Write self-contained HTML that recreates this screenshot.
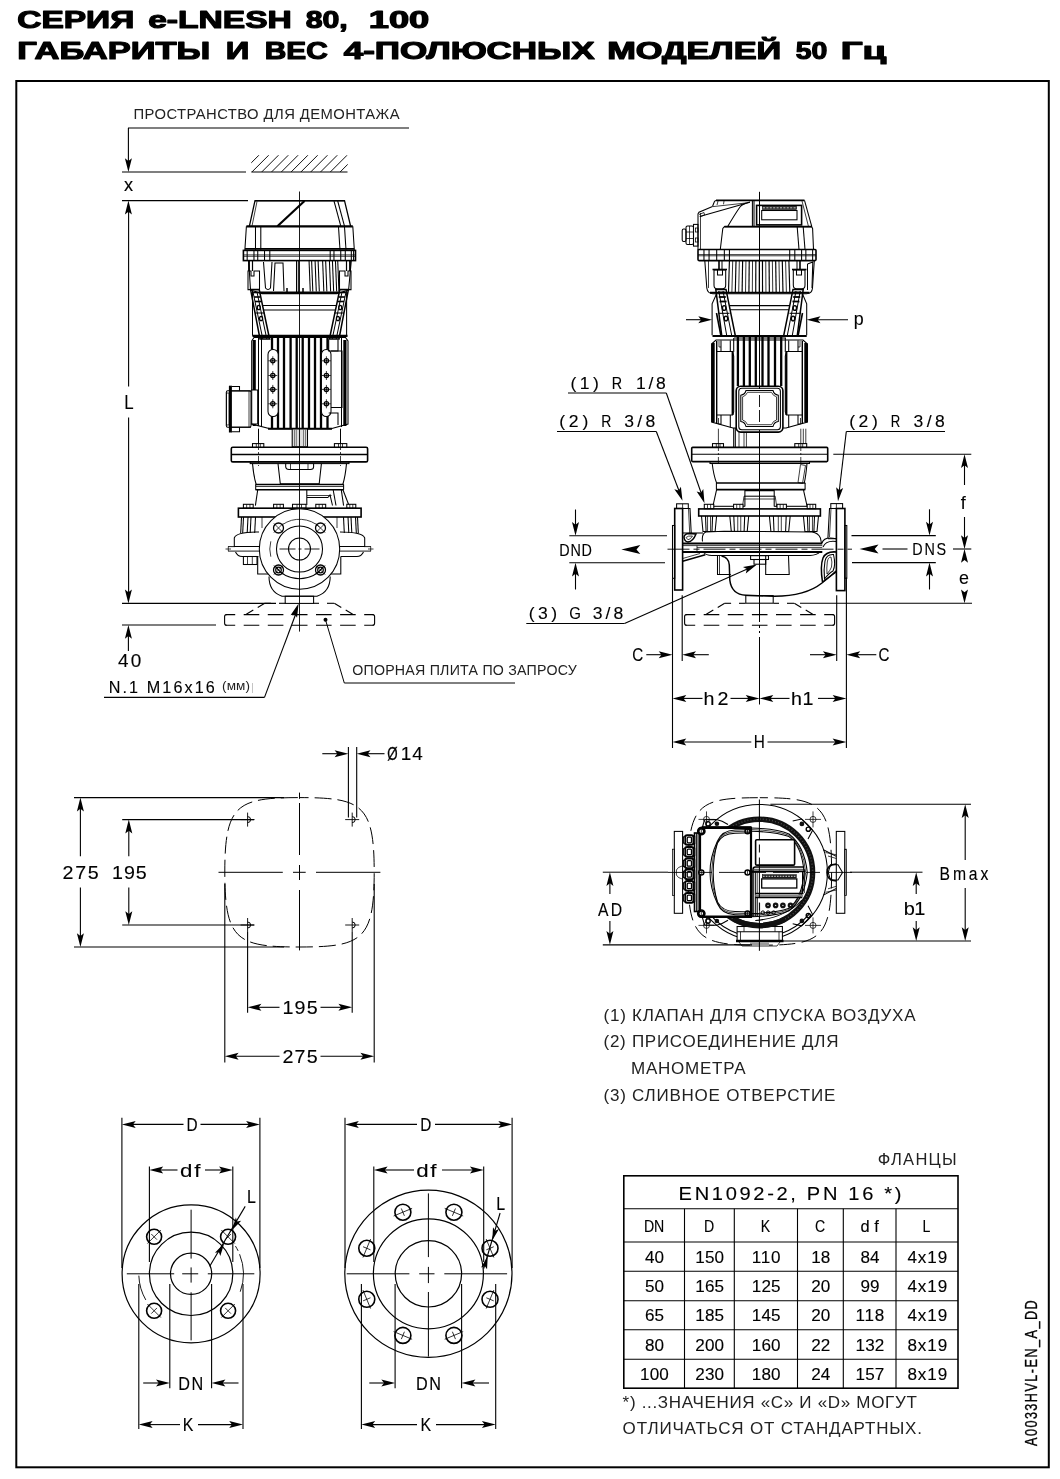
<!DOCTYPE html>
<html><head><meta charset="utf-8"><title>e-LNESH</title>
<style>
html,body{margin:0;padding:0;background:#fff;}
body{width:1060px;height:1479px;overflow:hidden;font-family:"Liberation Sans",sans-serif;}
svg{display:block;opacity:0.999;will-change:transform;}
</style></head><body>
<svg width="1060" height="1479" viewBox="0 0 1060 1479">
<rect width="1060" height="1479" fill="#fff"/>
<!-- frame_title -->
<rect x="16.3" y="81" width="1032.5" height="1386.3" rx="0" fill="none" stroke="#000" stroke-width="2"/>
<text x="17.2" y="27.5" font-family="Liberation Sans, sans-serif" font-size="24.2" font-weight="bold" textLength="117.1" lengthAdjust="spacingAndGlyphs" stroke="#000" stroke-width="1.15" stroke-linejoin="round">СЕРИЯ</text>
<text x="148.2" y="27.5" font-family="Liberation Sans, sans-serif" font-size="24.2" font-weight="bold" textLength="143.6" lengthAdjust="spacingAndGlyphs" stroke="#000" stroke-width="1.15" stroke-linejoin="round">e-LNESH</text>
<text x="305.7" y="27.5" font-family="Liberation Sans, sans-serif" font-size="24.2" font-weight="bold" textLength="42.1" lengthAdjust="spacingAndGlyphs" stroke="#000" stroke-width="1.15" stroke-linejoin="round">80,</text>
<text x="368.7" y="27.5" font-family="Liberation Sans, sans-serif" font-size="24.2" font-weight="bold" textLength="60.6" lengthAdjust="spacingAndGlyphs" stroke="#000" stroke-width="1.15" stroke-linejoin="round">100</text>
<text x="17.2" y="58.5" font-family="Liberation Sans, sans-serif" font-size="24.2" font-weight="bold" textLength="193.1" lengthAdjust="spacingAndGlyphs" stroke="#000" stroke-width="1.15" stroke-linejoin="round">ГАБАРИТЫ</text>
<text x="225.7" y="58.5" font-family="Liberation Sans, sans-serif" font-size="24.2" font-weight="bold" textLength="23.6" lengthAdjust="spacingAndGlyphs" stroke="#000" stroke-width="1.15" stroke-linejoin="round">И</text>
<text x="264.7" y="58.5" font-family="Liberation Sans, sans-serif" font-size="24.2" font-weight="bold" textLength="63.1" lengthAdjust="spacingAndGlyphs" stroke="#000" stroke-width="1.15" stroke-linejoin="round">ВЕС</text>
<text x="343.7" y="58.5" font-family="Liberation Sans, sans-serif" font-size="24.2" font-weight="bold" textLength="250.9" lengthAdjust="spacingAndGlyphs" stroke="#000" stroke-width="1.15" stroke-linejoin="round">4-ПОЛЮСНЫХ</text>
<text x="607.2" y="58.5" font-family="Liberation Sans, sans-serif" font-size="24.2" font-weight="bold" textLength="174.1" lengthAdjust="spacingAndGlyphs" stroke="#000" stroke-width="1.15" stroke-linejoin="round">МОДЕЛЕЙ</text>
<text x="795.7" y="58.5" font-family="Liberation Sans, sans-serif" font-size="24.2" font-weight="bold" textLength="31.6" lengthAdjust="spacingAndGlyphs" stroke="#000" stroke-width="1.15" stroke-linejoin="round">50</text>
<text x="840.7" y="58.5" font-family="Liberation Sans, sans-serif" font-size="24.2" font-weight="bold" textLength="45.6" lengthAdjust="spacingAndGlyphs" stroke="#000" stroke-width="1.15" stroke-linejoin="round">Гц</text>
<!-- left_dims -->
<text x="133.5" y="119.2" font-family="Liberation Sans, sans-serif" font-size="14.8" font-weight="normal" text-anchor="start" fill="#222" textLength="266" lengthAdjust="spacing" >ПРОСТРАНСТВО ДЛЯ ДЕМОНТАЖА</text>
<line x1="128" y1="128" x2="409" y2="128" stroke="#000" stroke-width="1.1"/>
<line x1="128.4" y1="128" x2="128.4" y2="165" stroke="#000" stroke-width="1.1"/>
<polygon points="128.4,172 124.9,158.2 128.4,160.96 131.9,158.2" fill="#000"/>
<line x1="122" y1="172" x2="246" y2="172" stroke="#000" stroke-width="1.1"/>
<line x1="251.3" y1="172" x2="347.5" y2="172" stroke="#555" stroke-width="1.7"/>
<clipPath id="hc"><rect x="251.3" y="155.2" width="96.4" height="17"/></clipPath><g clip-path="url(#hc)">
<line x1="242.1" y1="172" x2="259.1" y2="155" stroke="#111" stroke-width="1"/>
<line x1="251.9" y1="172" x2="268.9" y2="155" stroke="#111" stroke-width="1"/>
<line x1="261.7" y1="172" x2="278.7" y2="155" stroke="#111" stroke-width="1"/>
<line x1="271.5" y1="172" x2="288.5" y2="155" stroke="#111" stroke-width="1"/>
<line x1="281.3" y1="172" x2="298.3" y2="155" stroke="#111" stroke-width="1"/>
<line x1="291.1" y1="172" x2="308.1" y2="155" stroke="#111" stroke-width="1"/>
<line x1="300.9" y1="172" x2="317.9" y2="155" stroke="#111" stroke-width="1"/>
<line x1="310.7" y1="172" x2="327.7" y2="155" stroke="#111" stroke-width="1"/>
<line x1="320.5" y1="172" x2="337.5" y2="155" stroke="#111" stroke-width="1"/>
<line x1="330.3" y1="172" x2="347.3" y2="155" stroke="#111" stroke-width="1"/>
<line x1="340.1" y1="172" x2="357.1" y2="155" stroke="#111" stroke-width="1"/>
</g>
<text transform="translate(123.98 191) scale(1 1)" font-family="Liberation Sans, sans-serif" font-size="18.14" text-anchor="start" fill="#000" stroke="#000" stroke-width="0.12">x</text>
<line x1="122" y1="200.6" x2="248" y2="200.6" stroke="#000" stroke-width="1.1"/>
<polygon points="128.4,200.6 131.9,214.4 128.4,211.64 124.9,214.4" fill="#000"/>
<line x1="128.6" y1="208" x2="128.6" y2="386.6" stroke="#000" stroke-width="1.1"/>
<line x1="128.6" y1="417.4" x2="128.6" y2="596" stroke="#000" stroke-width="1.1"/>
<text transform="translate(124.14 408.8) scale(0.86 1)" font-family="Liberation Sans, sans-serif" font-size="19.57" text-anchor="start" fill="#000" stroke="#000" stroke-width="0.12">L</text>
<polygon points="128.4,603.4 124.9,589.6 128.4,592.36 131.9,589.6" fill="#000"/>
<line x1="122" y1="603.4" x2="276" y2="603.4" stroke="#000" stroke-width="1.1"/>
<line x1="122" y1="625" x2="216" y2="625" stroke="#000" stroke-width="1.1"/>
<polygon points="128.4,625 131.9,638.8 128.4,636.04 124.9,638.8" fill="#000"/>
<line x1="128.4" y1="632" x2="128.4" y2="651" stroke="#000" stroke-width="1.1"/>
<text transform="translate(118.12 666.5) scale(1.06 1)" font-family="Liberation Sans, sans-serif" font-size="17.86" text-anchor="start" fill="#000" textLength="21.94" lengthAdjust="spacing" stroke="#000" stroke-width="0.12">40</text>
<text transform="translate(108.77 692.5) scale(0.96 1)" font-family="Liberation Sans, sans-serif" font-size="16.86" text-anchor="start" fill="#000" textLength="110.37" lengthAdjust="spacing" stroke="#000" stroke-width="0.12">N.1 M16x16</text>
<text x="222" y="690" font-family="Liberation Sans, sans-serif" font-size="13.5" font-weight="normal" text-anchor="start" fill="#222" textLength="28" lengthAdjust="spacing" >(мм)</text>
<line x1="252.5" y1="683" x2="252.5" y2="693" stroke="#888" stroke-width="0.5"/>
<line x1="104" y1="697.4" x2="264.5" y2="697.4" stroke="#000" stroke-width="1.1"/>
<line x1="264.5" y1="697.4" x2="296.5" y2="612" stroke="#000" stroke-width="1.1"/>
<polygon points="298.6,603.6 297.05,617.75 294.73,613.94 290.49,615.3" fill="#000"/>
<line x1="225.6" y1="614.6" x2="373.6" y2="614.6" stroke="#000" stroke-width="1.1" stroke-dasharray="15.6 8.5" stroke-dashoffset="6"/>
<line x1="225.6" y1="625.2" x2="373.6" y2="625.2" stroke="#000" stroke-width="1.1" stroke-dasharray="15.6 8.5" stroke-dashoffset="6"/>
<path d="M226.6 614.6 Q224.6 614.6 224.6 616.6 L224.6 623.2 Q224.6 625.2 226.6 625.2" fill="none" stroke="#000" stroke-width="1.1" />
<path d="M372.6 614.6 Q374.6 614.6 374.6 616.6 L374.6 623.2 Q374.6 625.2 372.6 625.2" fill="none" stroke="#000" stroke-width="1.1" />
<line x1="264.7" y1="603.3" x2="271.1" y2="603.3" stroke="#000" stroke-width="1.1"/>
<line x1="279" y1="603.3" x2="285.5" y2="603.3" stroke="#000" stroke-width="1.1"/>
<line x1="313.5" y1="603.3" x2="319" y2="603.3" stroke="#000" stroke-width="1.1"/>
<line x1="327" y1="603.3" x2="334" y2="603.3" stroke="#000" stroke-width="1.1"/>
<line x1="264.7" y1="603.3" x2="257.71" y2="607.44" stroke="#000" stroke-width="1.1"/>
<line x1="253.29" y1="610.06" x2="246.3" y2="614.2" stroke="#000" stroke-width="1.1"/>
<line x1="334.3" y1="603.3" x2="341.29" y2="607.44" stroke="#000" stroke-width="1.1"/>
<line x1="345.71" y1="610.06" x2="352.7" y2="614.2" stroke="#000" stroke-width="1.1"/>
<circle cx="325.5" cy="619.8" r="2" fill="#000" stroke="#000" stroke-width="0"/>
<line x1="325.5" y1="619.8" x2="344.3" y2="683" stroke="#000" stroke-width="1"/>
<line x1="344.3" y1="683" x2="515" y2="683" stroke="#000" stroke-width="1"/>
<text x="352.2" y="675" font-family="Liberation Sans, sans-serif" font-size="14.2" font-weight="normal" text-anchor="start" fill="#222" textLength="224.5" lengthAdjust="spacing" >ОПОРНАЯ ПЛИТА ПО ЗАПРОСУ</text>
<!-- left_pump -->
<path d="M249.4 226.2 L255 200.7 L344.5 200.7 L350.6 226.2" fill="none" stroke="#000" stroke-width="1.3" />
<line x1="255" y1="200.7" x2="344.5" y2="200.7" stroke="#000" stroke-width="1.6"/>
<line x1="252" y1="226" x2="257" y2="201.5" stroke="#000" stroke-width="0.75"/>
<line x1="277.4" y1="226.2" x2="304.5" y2="201" stroke="#000" stroke-width="2.2"/>
<line x1="334" y1="201" x2="340.8" y2="226.2" stroke="#000" stroke-width="1.05"/>
<line x1="337.7" y1="201" x2="344.5" y2="226.2" stroke="#000" stroke-width="1.05"/>
<line x1="246.4" y1="226.3" x2="352.8" y2="226.3" stroke="#000" stroke-width="2.2"/>
<path d="M246.4 226.3 L244.9 249.8 L354.3 249.8 L352.8 226.3" fill="none" stroke="#000" stroke-width="1.05" />
<line x1="255.5" y1="227" x2="255.5" y2="249.8" stroke="#000" stroke-width="1.05"/>
<line x1="260.8" y1="227" x2="260.8" y2="249.8" stroke="#000" stroke-width="1.05"/>
<line x1="338.5" y1="227" x2="340" y2="249.8" stroke="#000" stroke-width="1.05"/>
<line x1="344.5" y1="227" x2="346" y2="249.8" stroke="#000" stroke-width="1.05"/>
<line x1="245" y1="248.5" x2="354.2" y2="248.5" stroke="#000" stroke-width="1.05"/>
<rect x="243.4" y="250.4" width="112.1" height="10.2" rx="0" fill="none" stroke="#000" stroke-width="1.6"/>
<line x1="243.4" y1="254.9" x2="355.5" y2="254.9" stroke="#000" stroke-width="0.75"/>
<line x1="243.4" y1="256.3" x2="355.5" y2="256.3" stroke="#000" stroke-width="0.75"/>
<line x1="247.17" y1="250.4" x2="247.17" y2="260.6" stroke="#000" stroke-width="1.05"/>
<line x1="253.96" y1="250.4" x2="253.96" y2="260.6" stroke="#000" stroke-width="1.05"/>
<line x1="257.74" y1="250.4" x2="257.74" y2="260.6" stroke="#000" stroke-width="1.05"/>
<line x1="264.53" y1="250.4" x2="264.53" y2="260.6" stroke="#000" stroke-width="1.05"/>
<line x1="269.81" y1="250.4" x2="269.81" y2="260.6" stroke="#000" stroke-width="1.05"/>
<line x1="330.19" y1="250.4" x2="330.19" y2="260.6" stroke="#000" stroke-width="1.05"/>
<line x1="333.96" y1="250.4" x2="333.96" y2="260.6" stroke="#000" stroke-width="1.05"/>
<line x1="340.75" y1="250.4" x2="340.75" y2="260.6" stroke="#000" stroke-width="1.05"/>
<line x1="345.28" y1="250.4" x2="345.28" y2="260.6" stroke="#000" stroke-width="1.05"/>
<line x1="351.32" y1="250.4" x2="351.32" y2="260.6" stroke="#000" stroke-width="1.05"/>
<line x1="353.58" y1="250.4" x2="353.58" y2="260.6" stroke="#000" stroke-width="1.05"/>
<path d="M248.7 260.6 L250.5 290 L262 293.6 L337 293.6 L348.6 290 L351.3 260.6" fill="none" stroke="#000" stroke-width="1.05" />
<line x1="260" y1="292.4" x2="339" y2="292.4" stroke="#000" stroke-width="1.6"/>
<line x1="309.06" y1="261" x2="310.26" y2="291.5" stroke="#000" stroke-width="1.05"/>
<line x1="311.62" y1="261" x2="312.82" y2="291.5" stroke="#000" stroke-width="1.05"/>
<line x1="315.09" y1="261" x2="316.29" y2="291.5" stroke="#000" stroke-width="1.05"/>
<line x1="318.11" y1="261" x2="319.31" y2="291.5" stroke="#000" stroke-width="1.05"/>
<line x1="322.64" y1="261" x2="323.84" y2="291.5" stroke="#000" stroke-width="1.05"/>
<line x1="325.66" y1="261" x2="326.86" y2="291.5" stroke="#000" stroke-width="1.05"/>
<line x1="329.43" y1="261" x2="330.63" y2="291.5" stroke="#000" stroke-width="1.05"/>
<line x1="332.45" y1="261" x2="333.65" y2="291.5" stroke="#000" stroke-width="1.05"/>
<line x1="335.47" y1="261" x2="336.67" y2="291.5" stroke="#000" stroke-width="1.05"/>
<line x1="337.74" y1="261" x2="338.94" y2="291.5" stroke="#000" stroke-width="1.05"/>
<path d="M263.5 262 L265.5 288 Q268 291 270.5 288 L272 262" fill="none" stroke="#000" stroke-width="1.05" />
<path d="M273.5 291 L275 263 L283 263 L284 291" fill="none" stroke="#000" stroke-width="1.05" />
<line x1="296.5" y1="261" x2="296.5" y2="292" stroke="#000" stroke-width="1.05"/>
<line x1="298.3" y1="261" x2="298.3" y2="292" stroke="#000" stroke-width="1.05"/>
<line x1="287" y1="288" x2="287" y2="292" stroke="#000" stroke-width="1.5"/>
<line x1="303" y1="288" x2="303" y2="292" stroke="#000" stroke-width="1.5"/>
<path d="M248 271 L248 289.6 L259.5 289.6 L259.5 271 L254 271 L254 276 L251 276 L251 271 Z" fill="none" stroke="#000" stroke-width="1.05" />
<line x1="249" y1="261" x2="249" y2="271" stroke="#000" stroke-width="1.8"/>
<line x1="252.5" y1="261" x2="252.5" y2="271" stroke="#000" stroke-width="1.2"/>
<path d="M250.6 289.6 L259.2 289.6 L269.6 339 L260 339 Z" fill="none" stroke="#000" stroke-width="1.5" />
<line x1="253" y1="292" x2="262.8" y2="339" stroke="#000" stroke-width="1"/>
<line x1="257" y1="292" x2="266.8" y2="339" stroke="#000" stroke-width="1"/>
<line x1="253.11" y1="292.5" x2="259.11" y2="292.5" stroke="#000" stroke-width="1.6"/>
<line x1="254.05" y1="297" x2="260.05" y2="297" stroke="#000" stroke-width="1.6"/>
<line x1="255" y1="301.5" x2="261" y2="301.5" stroke="#000" stroke-width="1.6"/>
<ellipse cx="258.76" cy="307.5" rx="1.5" ry="2.2" fill="none" stroke="#000" stroke-width="1.3"/>
<ellipse cx="261.07" cy="318.5" rx="1.5" ry="2.2" fill="none" stroke="#000" stroke-width="1.3"/>
<line x1="255.2" y1="313" x2="264.5" y2="313" stroke="#000" stroke-width="1.05"/>
<path d="M351 271 L351 289.6 L339.5 289.6 L339.5 271 L345 271 L345 276 L348 276 L348 271 Z" fill="none" stroke="#000" stroke-width="1.05" />
<line x1="350" y1="261" x2="350" y2="271" stroke="#000" stroke-width="1.8"/>
<line x1="346.5" y1="261" x2="346.5" y2="271" stroke="#000" stroke-width="1.2"/>
<path d="M348.4 289.6 L339.8 289.6 L329.4 339 L339 339 Z" fill="none" stroke="#000" stroke-width="1.5" />
<line x1="346" y1="292" x2="336.2" y2="339" stroke="#000" stroke-width="1"/>
<line x1="342" y1="292" x2="332.2" y2="339" stroke="#000" stroke-width="1"/>
<line x1="345.89" y1="292.5" x2="339.89" y2="292.5" stroke="#000" stroke-width="1.6"/>
<line x1="344.95" y1="297" x2="338.95" y2="297" stroke="#000" stroke-width="1.6"/>
<line x1="344" y1="301.5" x2="338" y2="301.5" stroke="#000" stroke-width="1.6"/>
<ellipse cx="340.24" cy="307.5" rx="1.5" ry="2.2" fill="none" stroke="#000" stroke-width="1.3"/>
<ellipse cx="337.93" cy="318.5" rx="1.5" ry="2.2" fill="none" stroke="#000" stroke-width="1.3"/>
<line x1="343.8" y1="313" x2="334.5" y2="313" stroke="#000" stroke-width="1.05"/>
<line x1="252.5" y1="291" x2="252.5" y2="335.7" stroke="#000" stroke-width="1.05"/>
<line x1="346.6" y1="291" x2="346.6" y2="335.7" stroke="#000" stroke-width="1.05"/>
<line x1="262.5" y1="305.5" x2="336.5" y2="305.5" stroke="#000" stroke-width="1.05"/>
<line x1="263.5" y1="310" x2="335.5" y2="310" stroke="#000" stroke-width="1.05"/>
<line x1="252.5" y1="335.9" x2="347.5" y2="335.9" stroke="#000" stroke-width="2.2"/>
<path d="M251.7 341 L254 337.5 L345.5 337.5 L348 341 L348 424 L331 428.7 L270 428.7 L251.7 424 Z" fill="none" stroke="#000" stroke-width="1.05" />
<line x1="254.2" y1="340" x2="254.2" y2="390" stroke="#000" stroke-width="3.2"/>
<line x1="254.2" y1="424" x2="254.2" y2="426" stroke="#000" stroke-width="3.2"/>
<line x1="258.5" y1="338" x2="258.5" y2="426" stroke="#000" stroke-width="1.05"/>
<line x1="261.5" y1="338" x2="261.5" y2="427" stroke="#000" stroke-width="1.05"/>
<line x1="344.9" y1="340" x2="344.9" y2="426" stroke="#000" stroke-width="3.2"/>
<line x1="341.5" y1="338" x2="341.5" y2="427" stroke="#000" stroke-width="1.05"/>
<line x1="272" y1="337" x2="272" y2="428.7" stroke="#000" stroke-width="2.3"/>
<line x1="278" y1="337" x2="278" y2="428.7" stroke="#000" stroke-width="2.3"/>
<line x1="284" y1="337" x2="284" y2="428.7" stroke="#000" stroke-width="2.3"/>
<line x1="290.6" y1="337" x2="290.6" y2="428.7" stroke="#000" stroke-width="2.3"/>
<line x1="296.7" y1="337" x2="296.7" y2="428.7" stroke="#000" stroke-width="2.3"/>
<line x1="302.7" y1="337" x2="302.7" y2="428.7" stroke="#000" stroke-width="2.3"/>
<line x1="309" y1="337" x2="309" y2="428.7" stroke="#000" stroke-width="2.3"/>
<line x1="315" y1="337" x2="315" y2="428.7" stroke="#000" stroke-width="2.3"/>
<line x1="321" y1="337" x2="321" y2="428.7" stroke="#000" stroke-width="2.3"/>
<line x1="327.5" y1="337" x2="327.5" y2="428.7" stroke="#000" stroke-width="2.3"/>
<line x1="268" y1="428.7" x2="332" y2="428.7" stroke="#000" stroke-width="2"/>
<rect x="268" y="349.4" width="10.2" height="67.2" rx="5" fill="#fff" stroke="#000" stroke-width="1.05"/>
<circle cx="272.8" cy="360.8" r="2.1" fill="none" stroke="#000" stroke-width="1.3"/>
<circle cx="272.8" cy="360.8" r="0.8" fill="#000" stroke="#000" stroke-width="0"/>
<line x1="268.3" y1="360.8" x2="277.3" y2="360.8" stroke="#000" stroke-width="0.75"/>
<line x1="272.8" y1="356.3" x2="272.8" y2="365.3" stroke="#000" stroke-width="0.75"/>
<circle cx="272.8" cy="375.5" r="2.1" fill="none" stroke="#000" stroke-width="1.3"/>
<circle cx="272.8" cy="375.5" r="0.8" fill="#000" stroke="#000" stroke-width="0"/>
<line x1="268.3" y1="375.5" x2="277.3" y2="375.5" stroke="#000" stroke-width="0.75"/>
<line x1="272.8" y1="371" x2="272.8" y2="380" stroke="#000" stroke-width="0.75"/>
<circle cx="272.8" cy="389.4" r="2.1" fill="none" stroke="#000" stroke-width="1.3"/>
<circle cx="272.8" cy="389.4" r="0.8" fill="#000" stroke="#000" stroke-width="0"/>
<line x1="268.3" y1="389.4" x2="277.3" y2="389.4" stroke="#000" stroke-width="0.75"/>
<line x1="272.8" y1="384.9" x2="272.8" y2="393.9" stroke="#000" stroke-width="0.75"/>
<circle cx="272.8" cy="403.8" r="2.1" fill="none" stroke="#000" stroke-width="1.3"/>
<circle cx="272.8" cy="403.8" r="0.8" fill="#000" stroke="#000" stroke-width="0"/>
<line x1="268.3" y1="403.8" x2="277.3" y2="403.8" stroke="#000" stroke-width="0.75"/>
<line x1="272.8" y1="399.3" x2="272.8" y2="408.3" stroke="#000" stroke-width="0.75"/>
<rect x="321.4" y="349.4" width="9.6" height="67.2" rx="5" fill="#fff" stroke="#000" stroke-width="1.05"/>
<circle cx="326.4" cy="360.8" r="2.1" fill="none" stroke="#000" stroke-width="1.3"/>
<circle cx="326.4" cy="360.8" r="0.8" fill="#000" stroke="#000" stroke-width="0"/>
<line x1="321.9" y1="360.8" x2="330.9" y2="360.8" stroke="#000" stroke-width="0.75"/>
<line x1="326.4" y1="356.3" x2="326.4" y2="365.3" stroke="#000" stroke-width="0.75"/>
<circle cx="326.4" cy="375.5" r="2.1" fill="none" stroke="#000" stroke-width="1.3"/>
<circle cx="326.4" cy="375.5" r="0.8" fill="#000" stroke="#000" stroke-width="0"/>
<line x1="321.9" y1="375.5" x2="330.9" y2="375.5" stroke="#000" stroke-width="0.75"/>
<line x1="326.4" y1="371" x2="326.4" y2="380" stroke="#000" stroke-width="0.75"/>
<circle cx="326.4" cy="389.4" r="2.1" fill="none" stroke="#000" stroke-width="1.3"/>
<circle cx="326.4" cy="389.4" r="0.8" fill="#000" stroke="#000" stroke-width="0"/>
<line x1="321.9" y1="389.4" x2="330.9" y2="389.4" stroke="#000" stroke-width="0.75"/>
<line x1="326.4" y1="384.9" x2="326.4" y2="393.9" stroke="#000" stroke-width="0.75"/>
<circle cx="326.4" cy="403.8" r="2.1" fill="none" stroke="#000" stroke-width="1.3"/>
<circle cx="326.4" cy="403.8" r="0.8" fill="#000" stroke="#000" stroke-width="0"/>
<line x1="321.9" y1="403.8" x2="330.9" y2="403.8" stroke="#000" stroke-width="0.75"/>
<line x1="326.4" y1="399.3" x2="326.4" y2="408.3" stroke="#000" stroke-width="0.75"/>
<path d="M328.7 339.6 L328.7 351 L338 351 L338 339.6" fill="none" stroke="#000" stroke-width="1.05" />
<path d="M331 351 L342 351 L342 407.5 L331 407.5" fill="none" stroke="#000" stroke-width="1.05" />
<path d="M328.7 413 L338 413 L338 425" fill="none" stroke="#000" stroke-width="1.05" />
<rect x="226.3" y="390.7" width="24.7" height="36.6" rx="1.5" fill="none" stroke="#000" stroke-width="1.05"/>
<line x1="230.4" y1="385.7" x2="230.4" y2="432.5" stroke="#000" stroke-width="3"/>
<rect x="226.5" y="393" width="2.5" height="32" rx="0" fill="none" stroke="#000" stroke-width="0.75"/>
<line x1="231" y1="391" x2="251" y2="391" stroke="#000" stroke-width="1.05"/>
<line x1="231" y1="427.2" x2="251" y2="427.2" stroke="#000" stroke-width="1.05"/>
<path d="M231.5 386.5 L239.5 386.5 L239.5 390.7" fill="none" stroke="#000" stroke-width="1.05" />
<path d="M231.5 431.7 L239.5 431.7 L239.5 427.3" fill="none" stroke="#000" stroke-width="1.05" />
<line x1="249" y1="391" x2="249" y2="427" stroke="#000" stroke-width="0.75"/>
<path d="M251 390 L257.7 390 L257.7 424 L251 424" fill="none" stroke="#000" stroke-width="1.05" />
<rect x="292.2" y="429" width="15.3" height="17.8" rx="0" fill="#ddd" stroke="#000" stroke-width="1.05"/>
<line x1="294.5" y1="429" x2="294.5" y2="446.8" stroke="#555" stroke-width="0.75"/>
<line x1="296.3" y1="429" x2="296.3" y2="446.8" stroke="#555" stroke-width="0.75"/>
<line x1="303.5" y1="429" x2="303.5" y2="446.8" stroke="#555" stroke-width="0.75"/>
<line x1="305.5" y1="429" x2="305.5" y2="446.8" stroke="#555" stroke-width="0.75"/>
<line x1="258.5" y1="428.7" x2="258.5" y2="443.8" stroke="#000" stroke-width="1.05"/>
<line x1="340.5" y1="428.7" x2="340.5" y2="443.8" stroke="#000" stroke-width="1.05"/>
<rect x="252.5" y="443.6" width="11.3" height="3.9" rx="0" fill="none" stroke="#000" stroke-width="1.05"/>
<line x1="256.3" y1="443.6" x2="256.3" y2="447.5" stroke="#000" stroke-width="0.75"/>
<line x1="260.3" y1="443.6" x2="260.3" y2="447.5" stroke="#000" stroke-width="0.75"/>
<rect x="334.4" y="443.6" width="12.4" height="3.9" rx="0" fill="none" stroke="#000" stroke-width="1.05"/>
<line x1="338.5" y1="443.6" x2="338.5" y2="447.5" stroke="#000" stroke-width="0.75"/>
<line x1="342.5" y1="443.6" x2="342.5" y2="447.5" stroke="#000" stroke-width="0.75"/>
<rect x="231.3" y="447.3" width="136.3" height="14.6" rx="1.5" fill="none" stroke="#000" stroke-width="1.6"/>
<line x1="231.3" y1="454.5" x2="367.6" y2="454.5" stroke="#000" stroke-width="1.3"/>
<line x1="258.5" y1="443" x2="258.5" y2="466" stroke="#000" stroke-width="0.75" stroke-dasharray="7 2 2 2"/>
<line x1="340.5" y1="443" x2="340.5" y2="466" stroke="#000" stroke-width="0.75" stroke-dasharray="7 2 2 2"/>
<rect x="250.2" y="461.9" width="98.8" height="1.7" rx="0" fill="none" stroke="#000" stroke-width="1.05"/>
<path d="M252.5 463.6 Q253.6 476 256.2 484.5" fill="none" stroke="#000" stroke-width="1.05" />
<line x1="257.7" y1="489.8" x2="255.4" y2="505.7" stroke="#000" stroke-width="1.05"/>
<path d="M346.5 463.6 Q345.4 476 342.8 484.5" fill="none" stroke="#000" stroke-width="1.05" />
<line x1="341.3" y1="489.8" x2="343.6" y2="505.7" stroke="#000" stroke-width="1.05"/>
<path d="M278 463.6 L280.3 483.8 L319.2 483.8 L321.4 463.6" fill="none" stroke="#000" stroke-width="1.05" />
<path d="M285.7 463.6 L285.7 467 Q286 469.5 289 469.5 L310.5 469.5 Q313.5 469.5 313.6 467 L313.6 463.6" fill="none" stroke="#000" stroke-width="1.05" />
<line x1="290.5" y1="463.6" x2="290.5" y2="469.5" stroke="#000" stroke-width="0.75"/>
<line x1="308" y1="463.6" x2="308" y2="469.5" stroke="#000" stroke-width="0.75"/>
<line x1="255.5" y1="484.5" x2="343.8" y2="484.5" stroke="#000" stroke-width="1.6"/>
<line x1="255.5" y1="489.8" x2="343.8" y2="489.8" stroke="#000" stroke-width="1.6"/>
<line x1="255.7" y1="484.5" x2="255.7" y2="489.8" stroke="#000" stroke-width="1.05"/>
<line x1="343.6" y1="484.5" x2="343.6" y2="489.8" stroke="#000" stroke-width="1.05"/>
<line x1="256" y1="486.5" x2="343.5" y2="486.5" stroke="#000" stroke-width="0.75"/>
<line x1="306.8" y1="490" x2="306.8" y2="505" stroke="#000" stroke-width="1.05"/>
<line x1="307" y1="495.5" x2="331.5" y2="495.5" stroke="#000" stroke-width="0.75"/>
<line x1="307" y1="497.5" x2="328" y2="497.5" stroke="#000" stroke-width="1.05"/>
<path d="M328 497.5 L330 495 L332.5 505.5" fill="none" stroke="#000" stroke-width="1.05" />
<line x1="333.2" y1="490" x2="336" y2="505.5" stroke="#000" stroke-width="1.05"/>
<line x1="343" y1="490" x2="349" y2="505.5" stroke="#000" stroke-width="1.05"/>
<rect x="243.4" y="504.3" width="9.8" height="3.9" rx="0" fill="#fff" stroke="#000" stroke-width="1.05"/>
<line x1="246.67" y1="504.3" x2="246.67" y2="508.2" stroke="#000" stroke-width="0.75"/>
<line x1="249.93" y1="504.3" x2="249.93" y2="508.2" stroke="#000" stroke-width="0.75"/>
<rect x="273.6" y="504.3" width="9.8" height="3.9" rx="0" fill="#fff" stroke="#000" stroke-width="1.05"/>
<line x1="276.87" y1="504.3" x2="276.87" y2="508.2" stroke="#000" stroke-width="0.75"/>
<line x1="280.13" y1="504.3" x2="280.13" y2="508.2" stroke="#000" stroke-width="0.75"/>
<rect x="292.5" y="504.3" width="13.5" height="3.9" rx="0" fill="#fff" stroke="#000" stroke-width="1.05"/>
<line x1="297" y1="504.3" x2="297" y2="508.2" stroke="#000" stroke-width="0.75"/>
<line x1="301.5" y1="504.3" x2="301.5" y2="508.2" stroke="#000" stroke-width="0.75"/>
<rect x="315.8" y="504.3" width="9.9" height="3.9" rx="0" fill="#fff" stroke="#000" stroke-width="1.05"/>
<line x1="319.1" y1="504.3" x2="319.1" y2="508.2" stroke="#000" stroke-width="0.75"/>
<line x1="322.4" y1="504.3" x2="322.4" y2="508.2" stroke="#000" stroke-width="0.75"/>
<rect x="346.8" y="504.3" width="9" height="3.9" rx="0" fill="#fff" stroke="#000" stroke-width="1.05"/>
<line x1="349.8" y1="504.3" x2="349.8" y2="508.2" stroke="#000" stroke-width="0.75"/>
<line x1="352.8" y1="504.3" x2="352.8" y2="508.2" stroke="#000" stroke-width="0.75"/>
<rect x="238.4" y="508.2" width="122.7" height="8.8" rx="0" fill="none" stroke="#000" stroke-width="1.6"/>
<line x1="241.5" y1="517" x2="240.7" y2="533" stroke="#000" stroke-width="1.05"/>
<line x1="243.5" y1="517" x2="242.7" y2="533" stroke="#000" stroke-width="1.05"/>
<line x1="248" y1="517" x2="247.2" y2="533" stroke="#000" stroke-width="1.05"/>
<line x1="251" y1="517" x2="250.2" y2="533" stroke="#000" stroke-width="1.05"/>
<line x1="255.5" y1="517" x2="254.7" y2="533" stroke="#000" stroke-width="1.05"/>
<line x1="262" y1="517" x2="262" y2="528" stroke="#000" stroke-width="0.75"/>
<line x1="357.5" y1="517" x2="358.3" y2="533" stroke="#000" stroke-width="1.05"/>
<line x1="355.5" y1="517" x2="356.3" y2="533" stroke="#000" stroke-width="1.05"/>
<line x1="351" y1="517" x2="351.8" y2="533" stroke="#000" stroke-width="1.05"/>
<line x1="348" y1="517" x2="348.8" y2="533" stroke="#000" stroke-width="1.05"/>
<line x1="343.5" y1="517" x2="344.3" y2="533" stroke="#000" stroke-width="1.05"/>
<line x1="337" y1="517" x2="337" y2="528" stroke="#000" stroke-width="0.75"/>
<path d="M259 532 Q236 532 234.3 538 L234.3 546.5 L259.5 546.5" fill="none" stroke="#000" stroke-width="1.05" />
<path d="M235.5 552 Q238 557 243 556.5 L258.5 556.5" fill="none" stroke="#000" stroke-width="1.05" />
<line x1="228" y1="551.1" x2="260" y2="551.1" stroke="#000" stroke-width="0.9"/>
<line x1="228" y1="546.6" x2="235" y2="546.6" stroke="#000" stroke-width="0.9"/>
<line x1="228.3" y1="546.6" x2="228.3" y2="551.1" stroke="#000" stroke-width="0.75"/>
<line x1="225.5" y1="549" x2="231" y2="549" stroke="#000" stroke-width="0.75"/>
<path d="M340 532 Q363 532 364.7 538 L364.7 546.5 L339.5 546.5" fill="none" stroke="#000" stroke-width="1.05" />
<path d="M363.5 552 Q361 557 356 556.5 L340.5 556.5" fill="none" stroke="#000" stroke-width="1.05" />
<line x1="371" y1="551.1" x2="339" y2="551.1" stroke="#000" stroke-width="0.9"/>
<line x1="371" y1="546.6" x2="364" y2="546.6" stroke="#000" stroke-width="0.9"/>
<line x1="370.7" y1="546.6" x2="370.7" y2="551.1" stroke="#000" stroke-width="0.75"/>
<line x1="373.5" y1="549" x2="368" y2="549" stroke="#000" stroke-width="0.75"/>
<rect x="243.4" y="556.5" width="13.6" height="8" rx="0" fill="none" stroke="#000" stroke-width="1.05"/>
<line x1="247.5" y1="556.5" x2="247.5" y2="564.5" stroke="#000" stroke-width="0.75"/>
<line x1="252.3" y1="556.5" x2="252.3" y2="564.5" stroke="#000" stroke-width="0.75"/>
<path d="M257.7 557 L257.7 574 L269 574" fill="none" stroke="#000" stroke-width="1.05" />
<path d="M340.8 557 L340.8 574 L330 574" fill="none" stroke="#000" stroke-width="1.05" />
<circle cx="299.5" cy="549" r="40.2" fill="#fff" stroke="#000" stroke-width="1.05"/>
<circle cx="299.5" cy="549" r="23" fill="none" stroke="#000" stroke-width="1.05"/>
<circle cx="299.5" cy="549" r="11" fill="none" stroke="#000" stroke-width="1.05"/>
<path d="M274.31 533.26 A29.7 29.7 0 0 1 324.69 533.26" fill="none" stroke="#000" stroke-width="0.75" stroke-dasharray="0 12 40 0" />
<path d="M270.81 541.31 A29.7 29.7 0 0 0 270.81 556.69" fill="none" stroke="#000" stroke-width="0.75" />
<path d="M275.17 566.04 A29.7 29.7 0 0 0 323.83 566.04" fill="none" stroke="#000" stroke-width="1.05" />
<circle cx="278.5" cy="528" r="5" fill="none" stroke="#000" stroke-width="1.3"/>
<line x1="273.9" y1="523.4" x2="283.1" y2="532.6" stroke="#000" stroke-width="0.75"/>
<line x1="273.9" y1="532.6" x2="283.1" y2="523.4" stroke="#000" stroke-width="0.75"/>
<circle cx="278.5" cy="570" r="5" fill="none" stroke="#000" stroke-width="1.3"/>
<line x1="273.9" y1="565.4" x2="283.1" y2="574.6" stroke="#000" stroke-width="0.75"/>
<line x1="273.9" y1="574.6" x2="283.1" y2="565.4" stroke="#000" stroke-width="0.75"/>
<circle cx="278.5" cy="570" r="2.8" fill="none" stroke="#000" stroke-width="1.2"/>
<circle cx="320.5" cy="528" r="5" fill="none" stroke="#000" stroke-width="1.3"/>
<line x1="315.9" y1="523.4" x2="325.1" y2="532.6" stroke="#000" stroke-width="0.75"/>
<line x1="315.9" y1="532.6" x2="325.1" y2="523.4" stroke="#000" stroke-width="0.75"/>
<circle cx="320.5" cy="570" r="5" fill="none" stroke="#000" stroke-width="1.3"/>
<line x1="315.9" y1="565.4" x2="325.1" y2="574.6" stroke="#000" stroke-width="0.75"/>
<line x1="315.9" y1="574.6" x2="325.1" y2="565.4" stroke="#000" stroke-width="0.75"/>
<circle cx="320.5" cy="570" r="2.8" fill="none" stroke="#000" stroke-width="1.2"/>
<line x1="279.5" y1="549" x2="319.5" y2="549" stroke="#000" stroke-width="0.9" stroke-dasharray="16 3 3 3"/>
<path d="M269 576.6 Q269 592 282 596.2 L317 596.2 Q330.2 592 330.2 576.6" fill="none" stroke="#000" stroke-width="1.05" />
<rect x="285.2" y="596.2" width="28.4" height="7.2" rx="0" fill="none" stroke="#000" stroke-width="1.05"/>
<line x1="299.5" y1="191.5" x2="299.5" y2="631.6" stroke="#000" stroke-width="0.9"/>
<!-- right_pump -->
<line x1="716" y1="200.4" x2="804.5" y2="200.4" stroke="#000" stroke-width="1.6"/>
<path d="M752.4 200.4 L752.4 226.6" fill="none" stroke="#000" stroke-width="1.05" />
<line x1="754" y1="201" x2="754" y2="226.6" stroke="#000" stroke-width="1.05"/>
<line x1="804.5" y1="200.4" x2="811.8" y2="226.6" stroke="#000" stroke-width="1.05"/>
<line x1="802" y1="201" x2="808.5" y2="226.6" stroke="#000" stroke-width="0.75"/>
<rect x="756.6" y="205.4" width="45" height="19.5" rx="0" fill="none" stroke="#000" stroke-width="1.6"/>
<rect x="761.7" y="210.5" width="35.3" height="9.3" rx="0" fill="none" stroke="#000" stroke-width="1.05"/>
<rect x="762.5" y="206.2" width="34" height="3.2" rx="0" fill="#333" stroke="#000" stroke-width="0.6"/>
<line x1="763" y1="207.8" x2="796" y2="207.8" stroke="#fff" stroke-width="0.7" stroke-dasharray="2 1.4"/>
<path d="M716 200.4 Q714.5 200.6 714 202.5 L712.5 206.5" fill="none" stroke="#000" stroke-width="1.05" />
<path d="M712.5 206.5 L699 212.2 L698 214 L698 250" fill="none" stroke="#000" stroke-width="1.05" />
<line x1="699.7" y1="216.6" x2="749.8" y2="202.2" stroke="#000" stroke-width="1.05"/>
<line x1="713" y1="206.6" x2="746" y2="203" stroke="#000" stroke-width="0.75"/>
<line x1="718" y1="201" x2="717" y2="205" stroke="#000" stroke-width="0.75"/>
<line x1="724" y1="201" x2="723.5" y2="204.3" stroke="#000" stroke-width="0.75"/>
<path d="M727.7 226.6 Q735 214 740 207 Q742 204 750 202" fill="none" stroke="#000" stroke-width="1.05" />
<path d="M700.5 213 L700.5 250" fill="none" stroke="#000" stroke-width="0.75" />
<path d="M699 214.5 L704 212.5 L704.5 215 L700 216.8" fill="none" stroke="#000" stroke-width="0.75" />
<rect x="682.2" y="229" width="3.8" height="12.5" rx="1.5" fill="none" stroke="#000" stroke-width="1.05"/>
<rect x="686" y="226" width="7.5" height="18.5" rx="1.5" fill="none" stroke="#000" stroke-width="1.05"/>
<rect x="693.5" y="224.4" width="4.5" height="21.7" rx="0" fill="none" stroke="#000" stroke-width="1.05"/>
<line x1="686" y1="232" x2="693.5" y2="232" stroke="#000" stroke-width="0.75"/>
<line x1="686" y1="238.5" x2="693.5" y2="238.5" stroke="#000" stroke-width="0.75"/>
<line x1="689.5" y1="226" x2="689.5" y2="244.5" stroke="#000" stroke-width="0.75"/>
<rect x="695.5" y="228" width="2.5" height="4" rx="0" fill="none" stroke="#000" stroke-width="0.75"/>
<rect x="695.5" y="238" width="2.5" height="4" rx="0" fill="none" stroke="#000" stroke-width="0.75"/>
<path d="M720.3 249.5 L722.8 228.5 L724.5 226.6 L811.5 226.6 L812.6 228.5 L813.5 249.5" fill="none" stroke="#000" stroke-width="1.05" />
<line x1="724.5" y1="226.6" x2="811.8" y2="226.6" stroke="#000" stroke-width="1.6"/>
<line x1="797.2" y1="227" x2="799" y2="249.5" stroke="#000" stroke-width="1.05"/>
<line x1="803.2" y1="227" x2="805" y2="249.5" stroke="#000" stroke-width="1.05"/>
<rect x="698" y="249.5" width="118" height="11.1" rx="1" fill="none" stroke="#000" stroke-width="1.6"/>
<line x1="698" y1="254.6" x2="816" y2="254.6" stroke="#000" stroke-width="0.75"/>
<line x1="698" y1="255.8" x2="816" y2="255.8" stroke="#000" stroke-width="0.75"/>
<line x1="703.96" y1="249.5" x2="703.96" y2="260.6" stroke="#000" stroke-width="1.05"/>
<line x1="709.06" y1="249.5" x2="709.06" y2="260.6" stroke="#000" stroke-width="1.05"/>
<line x1="716.7" y1="249.5" x2="716.7" y2="260.6" stroke="#000" stroke-width="1.05"/>
<line x1="724.34" y1="249.5" x2="724.34" y2="260.6" stroke="#000" stroke-width="1.05"/>
<line x1="729.43" y1="249.5" x2="729.43" y2="260.6" stroke="#000" stroke-width="1.05"/>
<line x1="789.71" y1="249.5" x2="789.71" y2="260.6" stroke="#000" stroke-width="1.05"/>
<line x1="794.81" y1="249.5" x2="794.81" y2="260.6" stroke="#000" stroke-width="1.05"/>
<line x1="801.6" y1="249.5" x2="801.6" y2="260.6" stroke="#000" stroke-width="1.05"/>
<line x1="805.85" y1="249.5" x2="805.85" y2="260.6" stroke="#000" stroke-width="1.05"/>
<line x1="812.64" y1="249.5" x2="812.64" y2="260.6" stroke="#000" stroke-width="1.05"/>
<path d="M704.8 260.6 L706.8 288 Q707.5 293.7 713 293.7 L806.5 293.7 Q812 293.7 812.5 288 L814.3 260.6" fill="none" stroke="#000" stroke-width="1.05" />
<line x1="710" y1="292.6" x2="809.5" y2="292.6" stroke="#000" stroke-width="1.6"/>
<line x1="729.4" y1="261" x2="728.5" y2="292" stroke="#000" stroke-width="1.15"/>
<line x1="732.71" y1="261" x2="731.9" y2="292" stroke="#000" stroke-width="0.8"/>
<line x1="736.01" y1="261" x2="735.31" y2="292" stroke="#000" stroke-width="1.15"/>
<line x1="739.32" y1="261" x2="738.71" y2="292" stroke="#000" stroke-width="0.8"/>
<line x1="742.62" y1="261" x2="742.12" y2="292" stroke="#000" stroke-width="1.15"/>
<line x1="745.93" y1="261" x2="745.52" y2="292" stroke="#000" stroke-width="0.8"/>
<line x1="749.23" y1="261" x2="748.93" y2="292" stroke="#000" stroke-width="1.15"/>
<line x1="752.54" y1="261" x2="752.33" y2="292" stroke="#000" stroke-width="0.8"/>
<line x1="755.84" y1="261" x2="755.73" y2="292" stroke="#000" stroke-width="1.15"/>
<line x1="759.15" y1="261" x2="759.14" y2="292" stroke="#000" stroke-width="0.8"/>
<line x1="762.46" y1="261" x2="762.54" y2="292" stroke="#000" stroke-width="1.15"/>
<line x1="765.76" y1="261" x2="765.95" y2="292" stroke="#000" stroke-width="0.8"/>
<line x1="769.07" y1="261" x2="769.35" y2="292" stroke="#000" stroke-width="1.15"/>
<line x1="772.37" y1="261" x2="772.76" y2="292" stroke="#000" stroke-width="0.8"/>
<line x1="775.68" y1="261" x2="776.16" y2="292" stroke="#000" stroke-width="1.15"/>
<line x1="778.98" y1="261" x2="779.57" y2="292" stroke="#000" stroke-width="0.8"/>
<line x1="782.29" y1="261" x2="782.97" y2="292" stroke="#000" stroke-width="1.15"/>
<line x1="785.59" y1="261" x2="786.38" y2="292" stroke="#000" stroke-width="0.8"/>
<line x1="788.9" y1="261" x2="789.78" y2="292" stroke="#000" stroke-width="1.15"/>
<line x1="708.5" y1="261" x2="708.5" y2="288" stroke="#000" stroke-width="0.75"/>
<path d="M807.5 264 L812.8 262 L812 288" fill="none" stroke="#000" stroke-width="1.05" />
<line x1="807.5" y1="264" x2="807.5" y2="290" stroke="#000" stroke-width="1.05"/>
<path d="M714 270 L714 285 Q714 288.8 717 288.8 L722.5 288.8 Q725.7 288.8 725.7 285 L725.7 270 Z" fill="#fff" stroke="#000" stroke-width="1.05" />
<path d="M717.5 270 L717.5 275 L722.5 275 L722.5 270" fill="none" stroke="#000" stroke-width="1.05" />
<line x1="719" y1="261" x2="719" y2="270" stroke="#000" stroke-width="1.6"/>
<line x1="722" y1="261" x2="722" y2="270" stroke="#000" stroke-width="1"/>
<line x1="712.5" y1="269.5" x2="727" y2="269.5" stroke="#000" stroke-width="1.6"/>
<path d="M715.8 289.4 L726 289.4 L735.4 336 L721.8 336 Z" fill="none" stroke="#000" stroke-width="1.5" />
<line x1="718.8" y1="291" x2="726.8" y2="336" stroke="#000" stroke-width="1"/>
<line x1="723" y1="291" x2="731.8" y2="336" stroke="#000" stroke-width="1"/>
<line x1="718.03" y1="292.5" x2="725.03" y2="292.5" stroke="#000" stroke-width="1.8"/>
<line x1="718.79" y1="297" x2="725.79" y2="297" stroke="#000" stroke-width="1.8"/>
<line x1="719.56" y1="301.5" x2="726.56" y2="301.5" stroke="#000" stroke-width="1.8"/>
<ellipse cx="724.16" cy="308" rx="1.7" ry="2.4" fill="none" stroke="#000" stroke-width="1.4"/>
<ellipse cx="725.95" cy="318.5" rx="1.7" ry="2.4" fill="none" stroke="#000" stroke-width="1.4"/>
<line x1="718.5" y1="313.3" x2="729.5" y2="313.3" stroke="#000" stroke-width="1.05"/>
<line x1="716.5" y1="313" x2="721" y2="336" stroke="#000" stroke-width="1.6"/>
<path d="M805 270 L805 285 Q805 288.8 802 288.8 L796.5 288.8 Q793.3 288.8 793.3 285 L793.3 270 Z" fill="#fff" stroke="#000" stroke-width="1.05" />
<path d="M801.5 270 L801.5 275 L796.5 275 L796.5 270" fill="none" stroke="#000" stroke-width="1.05" />
<line x1="800" y1="261" x2="800" y2="270" stroke="#000" stroke-width="1.6"/>
<line x1="797" y1="261" x2="797" y2="270" stroke="#000" stroke-width="1"/>
<line x1="806.5" y1="269.5" x2="792" y2="269.5" stroke="#000" stroke-width="1.6"/>
<path d="M803.2 289.4 L793 289.4 L783.6 336 L797.2 336 Z" fill="none" stroke="#000" stroke-width="1.5" />
<line x1="800.2" y1="291" x2="792.2" y2="336" stroke="#000" stroke-width="1"/>
<line x1="796" y1="291" x2="787.2" y2="336" stroke="#000" stroke-width="1"/>
<line x1="800.97" y1="292.5" x2="793.97" y2="292.5" stroke="#000" stroke-width="1.8"/>
<line x1="800.21" y1="297" x2="793.21" y2="297" stroke="#000" stroke-width="1.8"/>
<line x1="799.44" y1="301.5" x2="792.44" y2="301.5" stroke="#000" stroke-width="1.8"/>
<ellipse cx="794.84" cy="308" rx="1.7" ry="2.4" fill="none" stroke="#000" stroke-width="1.4"/>
<ellipse cx="793.05" cy="318.5" rx="1.7" ry="2.4" fill="none" stroke="#000" stroke-width="1.4"/>
<line x1="800.5" y1="313.3" x2="789.5" y2="313.3" stroke="#000" stroke-width="1.05"/>
<line x1="802.5" y1="313" x2="798" y2="336" stroke="#000" stroke-width="1.6"/>
<path d="M716.5 294 L712.1 303.9 L712.1 335.3" fill="none" stroke="#000" stroke-width="1.05" />
<path d="M802.5 294 L806.7 303.9 L806.7 335.3" fill="none" stroke="#000" stroke-width="1.05" />
<line x1="729" y1="305.6" x2="790" y2="305.6" stroke="#000" stroke-width="1.05"/>
<line x1="730" y1="309.8" x2="789" y2="309.8" stroke="#000" stroke-width="1.05"/>
<line x1="712.5" y1="336.1" x2="806.7" y2="336.1" stroke="#000" stroke-width="2"/>
<path d="M711.6 344 L716 340 L803 340 L807.5 344 L807.5 422 L786 428 L733 428 L711.6 422 Z" fill="none" stroke="#000" stroke-width="1.05" />
<line x1="713.2" y1="343" x2="713.2" y2="422" stroke="#000" stroke-width="3"/>
<line x1="716.7" y1="341" x2="716.7" y2="424" stroke="#000" stroke-width="1.4"/>
<path d="M716.7 351.4 L732.5 351.4 L733.7 356 L733.7 412 L732.5 415 L716.7 415" fill="none" stroke="#000" stroke-width="1.05" />
<line x1="732.6" y1="352" x2="732.6" y2="415" stroke="#000" stroke-width="2"/>
<path d="M721 340.4 L721 351.4" fill="none" stroke="#000" stroke-width="1.05" />
<path d="M730.3 340.4 L730.3 351.4" fill="none" stroke="#000" stroke-width="1.05" />
<path d="M719 341 L719 347 L721 347" fill="none" stroke="#000" stroke-width="0.75" />
<path d="M721 415 L721 424.5" fill="none" stroke="#000" stroke-width="1.05" />
<path d="M730.3 415 L730.3 427.5" fill="none" stroke="#000" stroke-width="1.05" />
<path d="M718.5 418 L718.5 424 L721 424" fill="none" stroke="#000" stroke-width="0.75" />
<line x1="733.7" y1="338" x2="733.7" y2="352" stroke="#000" stroke-width="1.05"/>
<line x1="805.8" y1="343" x2="805.8" y2="422" stroke="#000" stroke-width="3"/>
<line x1="802.3" y1="341" x2="802.3" y2="424" stroke="#000" stroke-width="1.4"/>
<path d="M802.3 351.4 L786.5 351.4 L785.3 356 L785.3 412 L786.5 415 L802.3 415" fill="none" stroke="#000" stroke-width="1.05" />
<line x1="786.4" y1="352" x2="786.4" y2="415" stroke="#000" stroke-width="2"/>
<path d="M798 340.4 L798 351.4" fill="none" stroke="#000" stroke-width="1.05" />
<path d="M788.7 340.4 L788.7 351.4" fill="none" stroke="#000" stroke-width="1.05" />
<path d="M800 341 L800 347 L798 347" fill="none" stroke="#000" stroke-width="0.75" />
<path d="M798 415 L798 424.5" fill="none" stroke="#000" stroke-width="1.05" />
<path d="M788.7 415 L788.7 427.5" fill="none" stroke="#000" stroke-width="1.05" />
<path d="M800.5 418 L800.5 424 L798 424" fill="none" stroke="#000" stroke-width="0.75" />
<line x1="785.3" y1="338" x2="785.3" y2="352" stroke="#000" stroke-width="1.05"/>
<line x1="737.9" y1="337" x2="737.9" y2="386" stroke="#000" stroke-width="2.3"/>
<line x1="743.9" y1="337" x2="743.9" y2="386" stroke="#000" stroke-width="2.3"/>
<line x1="749.8" y1="337" x2="749.8" y2="386" stroke="#000" stroke-width="2.3"/>
<line x1="755.8" y1="337" x2="755.8" y2="386" stroke="#000" stroke-width="2.3"/>
<line x1="762.5" y1="337" x2="762.5" y2="386" stroke="#000" stroke-width="2.3"/>
<line x1="768.5" y1="337" x2="768.5" y2="386" stroke="#000" stroke-width="2.3"/>
<line x1="775" y1="337" x2="775" y2="386" stroke="#000" stroke-width="2.3"/>
<line x1="781.2" y1="337" x2="781.2" y2="386" stroke="#000" stroke-width="2.3"/>
<line x1="734" y1="338" x2="786" y2="338" stroke="#000" stroke-width="1.05"/>
<rect x="736.2" y="386.2" width="46.7" height="45.9" rx="4.5" fill="#fff" stroke="#000" stroke-width="1.6"/>
<rect x="738.8" y="388.2" width="41.6" height="41.6" rx="3" fill="none" stroke="#000" stroke-width="1.05"/>
<path d="M746 390.5 L773 390.5 Q774 394.5 778.3 395.2 L778.3 421.5 Q774 422 773 426.5 L746 426.5 Q745 422 740.8 421.5 L740.8 395.2 Q745 394.5 746 390.5 Z" fill="none" stroke="#000" stroke-width="1.05" />
<path d="M747.5 392.3 L771.5 392.3 Q773 396 776.5 396.8 L776.5 420 Q773 420.8 771.5 424.7 L747.5 424.7 Q746 420.8 742.6 420 L742.6 396.8 Q746 396 747.5 392.3 Z" fill="none" stroke="#000" stroke-width="0.75" />
<line x1="759.5" y1="395" x2="759.5" y2="423" stroke="#000" stroke-width="0.9" stroke-dasharray="12 3"/>
<line x1="718.4" y1="428.7" x2="718.4" y2="444" stroke="#000" stroke-width="0.75"/>
<line x1="800.8" y1="428.7" x2="800.8" y2="444" stroke="#000" stroke-width="0.75"/>
<line x1="805.8" y1="428.7" x2="805.8" y2="444" stroke="#000" stroke-width="0.75"/>
<line x1="803.3" y1="428.7" x2="803.3" y2="444" stroke="#000" stroke-width="0.75"/>
<line x1="733.7" y1="428" x2="733.7" y2="447" stroke="#000" stroke-width="1.05"/>
<line x1="735.3" y1="428" x2="735.3" y2="447" stroke="#000" stroke-width="1.05"/>
<line x1="739" y1="432" x2="739" y2="447" stroke="#000" stroke-width="0.75"/>
<line x1="744" y1="432" x2="744" y2="447" stroke="#000" stroke-width="0.75"/>
<line x1="746.4" y1="432" x2="746.4" y2="447" stroke="#000" stroke-width="0.75"/>
<rect x="712.5" y="443.6" width="11" height="3.8" rx="0" fill="none" stroke="#000" stroke-width="1.05"/>
<line x1="716.3" y1="443.6" x2="716.3" y2="447.4" stroke="#000" stroke-width="0.75"/>
<line x1="720" y1="443.6" x2="720" y2="447.4" stroke="#000" stroke-width="0.75"/>
<rect x="794.8" y="443.6" width="11.9" height="3.8" rx="0" fill="none" stroke="#000" stroke-width="1.05"/>
<line x1="798.7" y1="443.6" x2="798.7" y2="447.4" stroke="#000" stroke-width="0.75"/>
<line x1="802.7" y1="443.6" x2="802.7" y2="447.4" stroke="#000" stroke-width="0.75"/>
<rect x="691.7" y="447.4" width="136" height="14.2" rx="1" fill="none" stroke="#000" stroke-width="1.6"/>
<line x1="691.7" y1="454.2" x2="827.7" y2="454.2" stroke="#000" stroke-width="1.05"/>
<line x1="718.4" y1="444" x2="718.4" y2="466" stroke="#000" stroke-width="0.75" stroke-dasharray="7 2 2 2"/>
<line x1="800.8" y1="444" x2="800.8" y2="466" stroke="#000" stroke-width="0.75" stroke-dasharray="7 2 2 2"/>
<rect x="710" y="461.6" width="99.5" height="1.9" rx="0" fill="none" stroke="#000" stroke-width="1.05"/>
<path d="M712.2 463.5 Q713.5 475 716.6 483" fill="none" stroke="#000" stroke-width="1.05" />
<path d="M807 463.5 Q806 475 804.3 483" fill="none" stroke="#000" stroke-width="1.05" />
<path d="M800.5 464.5 L805.5 465.5 L802.5 483.5 L798 482.5 Z" fill="none" stroke="#000" stroke-width="0.75" />
<line x1="716.2" y1="483" x2="805.3" y2="483" stroke="#000" stroke-width="1.6"/>
<line x1="716.2" y1="489.6" x2="805.3" y2="489.6" stroke="#000" stroke-width="1.6"/>
<line x1="716.4" y1="483" x2="716.4" y2="489.6" stroke="#000" stroke-width="1.05"/>
<line x1="805.1" y1="483" x2="805.1" y2="489.6" stroke="#000" stroke-width="1.05"/>
<line x1="716.6" y1="489.6" x2="712.8" y2="506.6" stroke="#000" stroke-width="1.05"/>
<line x1="803.4" y1="489.6" x2="807.2" y2="506.6" stroke="#000" stroke-width="1.05"/>
<path d="M744.9 506.6 L744.9 490.6 L774.2 490.6 L774.2 506.6" fill="none" stroke="#000" stroke-width="1.05" />
<line x1="744" y1="496.2" x2="775.2" y2="496.2" stroke="#000" stroke-width="1.05"/>
<line x1="744" y1="499" x2="775.2" y2="499" stroke="#000" stroke-width="0.75"/>
<line x1="744" y1="496.2" x2="742.5" y2="506.6" stroke="#000" stroke-width="0.75"/>
<line x1="775.2" y1="496.2" x2="776.7" y2="506.6" stroke="#000" stroke-width="0.75"/>
<rect x="704.3" y="504.3" width="9.5" height="4.4" rx="0" fill="#fff" stroke="#000" stroke-width="1.05"/>
<line x1="707.47" y1="504.3" x2="707.47" y2="508.7" stroke="#000" stroke-width="0.75"/>
<line x1="710.63" y1="504.3" x2="710.63" y2="508.7" stroke="#000" stroke-width="0.75"/>
<rect x="733.6" y="504.3" width="9.4" height="4.4" rx="0" fill="#fff" stroke="#000" stroke-width="1.05"/>
<line x1="736.73" y1="504.3" x2="736.73" y2="508.7" stroke="#000" stroke-width="0.75"/>
<line x1="739.87" y1="504.3" x2="739.87" y2="508.7" stroke="#000" stroke-width="0.75"/>
<rect x="777" y="504.3" width="9.4" height="4.4" rx="0" fill="#fff" stroke="#000" stroke-width="1.05"/>
<line x1="780.13" y1="504.3" x2="780.13" y2="508.7" stroke="#000" stroke-width="0.75"/>
<line x1="783.27" y1="504.3" x2="783.27" y2="508.7" stroke="#000" stroke-width="0.75"/>
<rect x="807.2" y="504.3" width="8.5" height="4.4" rx="0" fill="#fff" stroke="#000" stroke-width="1.05"/>
<line x1="810.03" y1="504.3" x2="810.03" y2="508.7" stroke="#000" stroke-width="0.75"/>
<line x1="812.87" y1="504.3" x2="812.87" y2="508.7" stroke="#000" stroke-width="0.75"/>
<line x1="713.8" y1="506.3" x2="733.6" y2="506.3" stroke="#000" stroke-width="1.05"/>
<line x1="743" y1="506.3" x2="744.9" y2="506.3" stroke="#000" stroke-width="1.05"/>
<line x1="774.2" y1="506.3" x2="777" y2="506.3" stroke="#000" stroke-width="1.05"/>
<line x1="786.4" y1="506.3" x2="807.2" y2="506.3" stroke="#000" stroke-width="1.05"/>
<rect x="698.7" y="508.9" width="121.7" height="7.1" rx="0" fill="none" stroke="#000" stroke-width="1.6"/>
<path d="M701.5 516 L703 531.5 L715.1 531.5 L716.6 516" fill="none" stroke="#000" stroke-width="1.05" />
<line x1="705.5" y1="516" x2="706.1" y2="531.5" stroke="#000" stroke-width="1.05"/>
<line x1="712.6" y1="516" x2="712" y2="531.5" stroke="#000" stroke-width="1.05"/>
<line x1="707.55" y1="516" x2="707.55" y2="531.5" stroke="#000" stroke-width="0.75"/>
<line x1="710.55" y1="516" x2="710.55" y2="531.5" stroke="#000" stroke-width="0.75"/>
<path d="M729.8 516 L731.3 531.5 L747.2 531.5 L748.7 516" fill="none" stroke="#000" stroke-width="1.05" />
<line x1="733.8" y1="516" x2="734.4" y2="531.5" stroke="#000" stroke-width="1.05"/>
<line x1="744.7" y1="516" x2="744.1" y2="531.5" stroke="#000" stroke-width="1.05"/>
<line x1="737.75" y1="516" x2="737.75" y2="531.5" stroke="#000" stroke-width="0.75"/>
<line x1="740.75" y1="516" x2="740.75" y2="531.5" stroke="#000" stroke-width="0.75"/>
<path d="M769.4 516 L770.9 531.5 L788.7 531.5 L790.2 516" fill="none" stroke="#000" stroke-width="1.05" />
<line x1="773.4" y1="516" x2="774" y2="531.5" stroke="#000" stroke-width="1.05"/>
<line x1="786.2" y1="516" x2="785.6" y2="531.5" stroke="#000" stroke-width="1.05"/>
<line x1="778.3" y1="516" x2="778.3" y2="531.5" stroke="#000" stroke-width="0.75"/>
<line x1="781.3" y1="516" x2="781.3" y2="531.5" stroke="#000" stroke-width="0.75"/>
<path d="M803.4 516 L804.9 531.5 L817 531.5 L818.5 516" fill="none" stroke="#000" stroke-width="1.05" />
<line x1="807.4" y1="516" x2="808" y2="531.5" stroke="#000" stroke-width="1.05"/>
<line x1="814.5" y1="516" x2="813.9" y2="531.5" stroke="#000" stroke-width="1.05"/>
<line x1="809.45" y1="516" x2="809.45" y2="531.5" stroke="#000" stroke-width="0.75"/>
<line x1="812.45" y1="516" x2="812.45" y2="531.5" stroke="#000" stroke-width="0.75"/>
<path d="M702.5 541.5 Q701.5 533.5 706 532 L724 531.2 L812 532 Q818.5 533 820.4 538 L821.5 543.4" fill="none" stroke="#000" stroke-width="1.05" />
<line x1="682.6" y1="543.4" x2="822.3" y2="543.4" stroke="#000" stroke-width="2"/>
<line x1="682.6" y1="545.6" x2="822.3" y2="545.6" stroke="#000" stroke-width="0.75"/>
<line x1="697" y1="547.6" x2="822.3" y2="547.6" stroke="#000" stroke-width="0.75"/>
<line x1="682.6" y1="552" x2="822.3" y2="552" stroke="#000" stroke-width="2"/>
<path d="M703 552 Q706 555.5 712 555.5 L810 555.5 Q817 555 820 552" fill="none" stroke="#000" stroke-width="1.05" />
<line x1="697" y1="545.6" x2="697" y2="552" stroke="#000" stroke-width="0.75"/>
<rect x="674.7" y="508.5" width="7.9" height="81.5" rx="0" fill="#fff" stroke="#000" stroke-width="1.6"/>
<rect x="672.5" y="525.5" width="2.2" height="52.8" rx="0" fill="none" stroke="#000" stroke-width="1.05"/>
<rect x="676.6" y="503.8" width="11.7" height="4.7" rx="0" fill="none" stroke="#000" stroke-width="1.05"/>
<line x1="682.6" y1="503.8" x2="682.6" y2="508.5" stroke="#000" stroke-width="0.75"/>
<path d="M682.6 508.5 L690 508.5 L691.2 533" fill="none" stroke="#000" stroke-width="1.05" />
<line x1="688.5" y1="508.5" x2="689.7" y2="533" stroke="#000" stroke-width="0.75"/>
<path d="M682.6 533 L703 533" fill="none" stroke="#000" stroke-width="1.05" />
<path d="M684 537 Q684.5 533.6 689 533.4 L696 534 Q693 541.5 688 542 Q684.3 541.5 684 537 Z" fill="none" stroke="#000" stroke-width="1.5" />
<path d="M686 537.5 Q688 535.5 692.5 536 Q690.5 539.5 688 539.8 Z" fill="none" stroke="#000" stroke-width="0.75" />
<line x1="682.6" y1="561.3" x2="705.3" y2="554.7" stroke="#000" stroke-width="1.5"/>
<line x1="682.6" y1="558.5" x2="700" y2="553.5" stroke="#000" stroke-width="0.75"/>
<rect x="836.4" y="508.5" width="8.5" height="82.1" rx="0" fill="#fff" stroke="#000" stroke-width="1.6"/>
<rect x="844.9" y="525.5" width="1.9" height="52.8" rx="0" fill="none" stroke="#000" stroke-width="1.05"/>
<rect x="830.8" y="503.6" width="11.8" height="4.9" rx="0" fill="none" stroke="#000" stroke-width="1.05"/>
<line x1="836.4" y1="503.6" x2="836.4" y2="508.5" stroke="#000" stroke-width="0.75"/>
<path d="M836.4 508.5 L829.5 508.5 L827.9 538.5" fill="none" stroke="#000" stroke-width="1.05" />
<line x1="831" y1="508.5" x2="829.5" y2="537" stroke="#000" stroke-width="0.75"/>
<path d="M822 543 Q824 536 836.4 538.7" fill="none" stroke="#000" stroke-width="1.05" />
<path d="M823 547 Q826 540 836.4 541.5" fill="none" stroke="#000" stroke-width="1.05" />
<line x1="828" y1="538.7" x2="836.4" y2="538.7" stroke="#000" stroke-width="1.05"/>
<path d="M836.4 552 Q826 551 823 558 Q820 566 822.5 582" fill="none" stroke="#000" stroke-width="1.5" />
<path d="M833.5 554.5 Q826.5 554 825 561 Q823.5 569 824.5 579 Q829 573 833 571 Q836 565 833.5 554.5 Z" fill="none" stroke="#000" stroke-width="1.05" />
<path d="M831 557 Q828 557 827.3 562 Q826.5 568 827 574 Q830.5 570 831.5 567 Q832.5 562 831 557 Z" fill="none" stroke="#000" stroke-width="0.75" />
<path d="M822.5 582 Q830 576 836.4 572" fill="none" stroke="#000" stroke-width="1.05" />
<path d="M717.5 556 L717.5 574.5 L730.8 574.5" fill="none" stroke="#000" stroke-width="1.05" />
<line x1="719.5" y1="556" x2="719.5" y2="574.5" stroke="#000" stroke-width="0.75"/>
<path d="M765.7 556 L765.7 574.5 L789.2 574.5 L788.5 556" fill="none" stroke="#000" stroke-width="1.05" />
<rect x="750.6" y="555.7" width="17.9" height="3.8" rx="0" fill="none" stroke="#000" stroke-width="1.05"/>
<rect x="754" y="559.5" width="11.7" height="4.7" rx="0" fill="none" stroke="#000" stroke-width="1.05"/>
<path d="M721.5 556 Q729 557.5 729.3 565 L729.8 580 Q731.5 594.5 746 595.3 L773.2 596.2 Q805 596.5 822 583 Q830 577 836.4 570.8" fill="none" stroke="#000" stroke-width="1.5" />
<rect x="745.8" y="595.6" width="27.4" height="7.6" rx="0" fill="none" stroke="#000" stroke-width="1.05"/>
<!-- right_dims -->
<text transform="translate(570.51 388.8) scale(1.04 1)" font-family="Liberation Sans, sans-serif" font-size="16.86" text-anchor="start" fill="#000" textLength="27.19" lengthAdjust="spacing" stroke="#000" stroke-width="0.12">(1)</text>
<text transform="translate(611.86 388.8) scale(0.85 1)" font-family="Liberation Sans, sans-serif" font-size="16.86" text-anchor="start" fill="#000" stroke="#000" stroke-width="0.12">R</text>
<text transform="translate(635.95 388.8) scale(1.04 1)" font-family="Liberation Sans, sans-serif" font-size="16.86" text-anchor="start" fill="#000" textLength="28.75" lengthAdjust="spacing" stroke="#000" stroke-width="0.12">1/8</text>
<line x1="568" y1="393" x2="666.3" y2="393" stroke="#000" stroke-width="1.1"/>
<line x1="666.3" y1="393" x2="701.5" y2="494" stroke="#000" stroke-width="1.1"/>
<polygon points="704.5,503.3 696.66,491.42 700.87,492.87 703.27,489.12" fill="#000"/>
<text transform="translate(559.21 427) scale(1.04 1)" font-family="Liberation Sans, sans-serif" font-size="16.86" text-anchor="start" fill="#000" textLength="27.96" lengthAdjust="spacing" stroke="#000" stroke-width="0.12">(2)</text>
<text transform="translate(601.37 427) scale(0.83 1)" font-family="Liberation Sans, sans-serif" font-size="16.86" text-anchor="start" fill="#000" stroke="#000" stroke-width="0.12">R</text>
<text transform="translate(624.15 427) scale(1.04 1)" font-family="Liberation Sans, sans-serif" font-size="16.86" text-anchor="start" fill="#000" textLength="30" lengthAdjust="spacing" stroke="#000" stroke-width="0.12">3/8</text>
<line x1="557" y1="431.5" x2="656.3" y2="431.5" stroke="#000" stroke-width="1.1"/>
<line x1="656.3" y1="431.5" x2="679.5" y2="492" stroke="#000" stroke-width="1.1"/>
<polygon points="682.5,500.8 674.35,489.13 678.6,490.47 680.9,486.65" fill="#000"/>
<text transform="translate(849.21 426.8) scale(1.04 1)" font-family="Liberation Sans, sans-serif" font-size="16.86" text-anchor="start" fill="#000" textLength="27.48" lengthAdjust="spacing" stroke="#000" stroke-width="0.12">(2)</text>
<text transform="translate(890.71 426.8) scale(0.78 1)" font-family="Liberation Sans, sans-serif" font-size="16.86" text-anchor="start" fill="#000" stroke="#000" stroke-width="0.12">R</text>
<text transform="translate(913.45 426.8) scale(1.04 1)" font-family="Liberation Sans, sans-serif" font-size="16.86" text-anchor="start" fill="#000" textLength="30.19" lengthAdjust="spacing" stroke="#000" stroke-width="0.12">3/8</text>
<line x1="846.3" y1="431.5" x2="945" y2="431.5" stroke="#000" stroke-width="1.1"/>
<line x1="846.3" y1="431.5" x2="839" y2="493" stroke="#000" stroke-width="1.1"/>
<polygon points="838,501.3 836.16,487.18 839.31,490.34 843.11,488.01" fill="#000"/>
<line x1="575.5" y1="509.5" x2="575.5" y2="528" stroke="#000" stroke-width="1.1"/>
<polygon points="575.5,535.8 572,522 575.5,524.76 579,522" fill="#000"/>
<line x1="569.3" y1="535.8" x2="667" y2="535.8" stroke="#000" stroke-width="1.1"/>
<text transform="translate(559.3 555.5) scale(0.86 1)" font-family="Liberation Sans, sans-serif" font-size="16.71" text-anchor="start" fill="#000" textLength="37.9" lengthAdjust="spacing" stroke="#000" stroke-width="0.12">DND</text>
<line x1="569.3" y1="562.8" x2="665" y2="562.8" stroke="#000" stroke-width="1.1"/>
<polygon points="575.5,562.8 579,576.6 575.5,573.84 572,576.6" fill="#000"/>
<line x1="575.5" y1="570" x2="575.5" y2="589.5" stroke="#000" stroke-width="1.1"/>
<polygon points="621.3,549.5 640.3,544.9 636.5,549.5 640.3,554.1" fill="#000"/>
<text transform="translate(528.71 618.8) scale(1.04 1)" font-family="Liberation Sans, sans-serif" font-size="16.86" text-anchor="start" fill="#000" textLength="27.29" lengthAdjust="spacing" stroke="#000" stroke-width="0.12">(3)</text>
<text transform="translate(569.32 618.8) scale(0.89 1)" font-family="Liberation Sans, sans-serif" font-size="16.86" text-anchor="start" fill="#000" stroke="#000" stroke-width="0.12">G</text>
<text transform="translate(592.65 618.8) scale(1.04 1)" font-family="Liberation Sans, sans-serif" font-size="16.86" text-anchor="start" fill="#000" textLength="29.52" lengthAdjust="spacing" stroke="#000" stroke-width="0.12">3/8</text>
<line x1="526.3" y1="623.5" x2="624.5" y2="623.5" stroke="#000" stroke-width="1.1"/>
<line x1="624.5" y1="623.5" x2="749" y2="568.3" stroke="#000" stroke-width="1.1"/>
<polygon points="757,564.6 745.82,573.41 746.91,569.09 742.97,567.02" fill="#000"/>
<text transform="translate(632.37 661.3) scale(0.86 1)" font-family="Liberation Sans, sans-serif" font-size="17.57" text-anchor="start" fill="#000" textLength="13.56" lengthAdjust="spacing" stroke="#000" stroke-width="0.12">C</text>
<line x1="646.3" y1="654.7" x2="664" y2="654.7" stroke="#000" stroke-width="1.1"/>
<polygon points="672.5,654.7 658.7,658.2 661.46,654.7 658.7,651.2" fill="#000"/>
<polygon points="682.2,654.7 696,651.2 693.24,654.7 696,658.2" fill="#000"/>
<line x1="690" y1="654.7" x2="708.8" y2="654.7" stroke="#000" stroke-width="1.1"/>
<line x1="810" y1="654.7" x2="828" y2="654.7" stroke="#000" stroke-width="1.1"/>
<polygon points="836.7,654.7 822.9,658.2 825.66,654.7 822.9,651.2" fill="#000"/>
<polygon points="846.4,654.7 860.2,651.2 857.44,654.7 860.2,658.2" fill="#000"/>
<line x1="855" y1="654.7" x2="876.3" y2="654.7" stroke="#000" stroke-width="1.1"/>
<text transform="translate(878.57 661.3) scale(0.86 1)" font-family="Liberation Sans, sans-serif" font-size="17.57" text-anchor="start" fill="#000" textLength="13.56" lengthAdjust="spacing" stroke="#000" stroke-width="0.12">C</text>
<line x1="672.5" y1="578.3" x2="672.5" y2="748" stroke="#000" stroke-width="1.1"/>
<line x1="682.2" y1="595.3" x2="682.2" y2="661" stroke="#000" stroke-width="1.1"/>
<line x1="836.7" y1="595.3" x2="836.7" y2="661" stroke="#000" stroke-width="1.1"/>
<line x1="846.4" y1="577.5" x2="846.4" y2="748" stroke="#000" stroke-width="1.1"/>
<polygon points="672.5,698.4 686.3,694.9 683.54,698.4 686.3,701.9" fill="#000"/>
<polygon points="759.5,698.4 745.7,701.9 748.46,698.4 745.7,694.9" fill="#000"/>
<polygon points="759.5,698.4 773.3,694.9 770.54,698.4 773.3,701.9" fill="#000"/>
<polygon points="846.4,698.4 832.6,701.9 835.36,698.4 832.6,694.9" fill="#000"/>
<line x1="682" y1="698.4" x2="702.5" y2="698.4" stroke="#000" stroke-width="1.1"/>
<line x1="730.5" y1="698.4" x2="750" y2="698.4" stroke="#000" stroke-width="1.1"/>
<line x1="769" y1="698.4" x2="789.5" y2="698.4" stroke="#000" stroke-width="1.1"/>
<line x1="818" y1="698.4" x2="837" y2="698.4" stroke="#000" stroke-width="1.1"/>
<text transform="translate(703.61 705) scale(1.06 1)" font-family="Liberation Sans, sans-serif" font-size="18.57" text-anchor="start" fill="#000" textLength="23.37" lengthAdjust="spacing" stroke="#000" stroke-width="0.12">h2</text>
<text transform="translate(790.91 705) scale(1.06 1)" font-family="Liberation Sans, sans-serif" font-size="18.57" text-anchor="start" fill="#000" textLength="21.2" lengthAdjust="spacing" stroke="#000" stroke-width="0.12">h1</text>
<polygon points="672.5,742 686.3,738.5 683.54,742 686.3,745.5" fill="#000"/>
<polygon points="846.4,742 832.6,745.5 835.36,742 832.6,738.5" fill="#000"/>
<line x1="682" y1="742" x2="751.3" y2="742" stroke="#000" stroke-width="1.1"/>
<line x1="767.5" y1="742" x2="837" y2="742" stroke="#000" stroke-width="1.1"/>
<text transform="translate(753.81 748.3) scale(0.86 1)" font-family="Liberation Sans, sans-serif" font-size="17.86" text-anchor="start" fill="#000" textLength="13" lengthAdjust="spacing" stroke="#000" stroke-width="0.12">H</text>
<line x1="833.3" y1="454.3" x2="971.3" y2="454.3" stroke="#000" stroke-width="1.1"/>
<polygon points="964.5,454.3 968,468.1 964.5,465.34 961,468.1" fill="#000"/>
<line x1="964.5" y1="462" x2="964.5" y2="485" stroke="#000" stroke-width="1.1"/>
<text transform="translate(960.7 508.8) scale(1 1)" font-family="Liberation Sans, sans-serif" font-size="17.86" text-anchor="start" fill="#000" stroke="#000" stroke-width="0.12">f</text>
<line x1="964.5" y1="517" x2="964.5" y2="541" stroke="#000" stroke-width="1.1"/>
<polygon points="964.5,549 961,535.2 964.5,537.96 968,535.2" fill="#000"/>
<polygon points="964.5,549 968,562.8 964.5,560.04 961,562.8" fill="#000"/>
<text transform="translate(959 584) scale(1 1)" font-family="Liberation Sans, sans-serif" font-size="17.86" text-anchor="start" fill="#000" stroke="#000" stroke-width="0.12">e</text>
<polygon points="964.5,603.2 961,589.4 964.5,592.16 968,589.4" fill="#000"/>
<line x1="800" y1="603.2" x2="972" y2="603.2" stroke="#000" stroke-width="1.1"/>
<line x1="929.5" y1="509.3" x2="929.5" y2="528" stroke="#000" stroke-width="1.1"/>
<polygon points="929.5,535.6 926,521.8 929.5,524.56 933,521.8" fill="#000"/>
<line x1="851.5" y1="535.6" x2="935.8" y2="535.6" stroke="#000" stroke-width="1.1"/>
<line x1="852" y1="562.6" x2="935.8" y2="562.6" stroke="#000" stroke-width="1.1"/>
<polygon points="929.5,562.6 933,576.4 929.5,573.64 926,576.4" fill="#000"/>
<line x1="929.5" y1="570" x2="929.5" y2="589.5" stroke="#000" stroke-width="1.1"/>
<polygon points="859.5,549 878.5,544.4 874.7,549 878.5,553.6" fill="#000"/>
<line x1="882.5" y1="549" x2="907.5" y2="549" stroke="#000" stroke-width="1.1"/>
<text transform="translate(912.35 555.2) scale(0.86 1)" font-family="Liberation Sans, sans-serif" font-size="16.71" text-anchor="start" fill="#000" textLength="39.29" lengthAdjust="spacing" stroke="#000" stroke-width="0.12">DNS</text>
<line x1="953" y1="549" x2="971.3" y2="549" stroke="#000" stroke-width="1.1"/>
<line x1="686" y1="319.7" x2="703" y2="319.7" stroke="#000" stroke-width="1.1"/>
<polygon points="712.1,319.7 698.3,323.2 701.06,319.7 698.3,316.2" fill="#000"/>
<polygon points="806.7,319.7 820.5,316.2 817.74,319.7 820.5,323.2" fill="#000"/>
<line x1="815" y1="319.7" x2="848" y2="319.7" stroke="#000" stroke-width="1.1"/>
<text transform="translate(853.7 324.5) scale(1 1)" font-family="Liberation Sans, sans-serif" font-size="17.86" text-anchor="start" fill="#000" stroke="#000" stroke-width="0.12">p</text>
<line x1="685.6" y1="614.6" x2="833.6" y2="614.6" stroke="#000" stroke-width="1.1" stroke-dasharray="15.6 8.5" stroke-dashoffset="6"/>
<line x1="685.6" y1="625.2" x2="833.6" y2="625.2" stroke="#000" stroke-width="1.1" stroke-dasharray="15.6 8.5" stroke-dashoffset="6"/>
<path d="M686.6 614.6 Q684.6 614.6 684.6 616.6 L684.6 623.2 Q684.6 625.2 686.6 625.2" fill="none" stroke="#000" stroke-width="1.1" />
<path d="M832.6 614.6 Q834.6 614.6 834.6 616.6 L834.6 623.2 Q834.6 625.2 832.6 625.2" fill="none" stroke="#000" stroke-width="1.1" />
<line x1="724.7" y1="603.3" x2="731.1" y2="603.3" stroke="#000" stroke-width="1.1"/>
<line x1="739" y1="603.3" x2="745.5" y2="603.3" stroke="#000" stroke-width="1.1"/>
<line x1="773.5" y1="603.3" x2="779" y2="603.3" stroke="#000" stroke-width="1.1"/>
<line x1="787" y1="603.3" x2="794" y2="603.3" stroke="#000" stroke-width="1.1"/>
<line x1="724.7" y1="603.3" x2="717.71" y2="607.44" stroke="#000" stroke-width="1.1"/>
<line x1="713.29" y1="610.06" x2="706.3" y2="614.2" stroke="#000" stroke-width="1.1"/>
<line x1="794.3" y1="603.3" x2="801.29" y2="607.44" stroke="#000" stroke-width="1.1"/>
<line x1="805.71" y1="610.06" x2="812.7" y2="614.2" stroke="#000" stroke-width="1.1"/>
<line x1="759.5" y1="191.8" x2="759.5" y2="389" stroke="#000" stroke-width="1"/>
<line x1="759.5" y1="430" x2="759.5" y2="610" stroke="#000" stroke-width="1"/>
<line x1="759.5" y1="610" x2="759.5" y2="633" stroke="#000" stroke-width="1" stroke-dasharray="12 3 3 3"/>
<line x1="759.5" y1="637" x2="759.5" y2="704.5" stroke="#000" stroke-width="1"/>
<line x1="667.5" y1="549.2" x2="852" y2="549.2" stroke="#000" stroke-width="0.9" stroke-dasharray="22 4 6 4"/>
<!-- plan_dims -->
<line x1="322.3" y1="753.7" x2="340" y2="753.7" stroke="#000" stroke-width="1.1"/>
<polygon points="348.4,753.7 334.6,757.2 337.36,753.7 334.6,750.2" fill="#000"/>
<polygon points="356.7,753.7 370.5,750.2 367.74,753.7 370.5,757.2" fill="#000"/>
<line x1="365" y1="753.7" x2="384.5" y2="753.7" stroke="#000" stroke-width="1.1"/>
<text transform="translate(387.3 759.5) scale(0.76 1)" font-family="Liberation Sans, sans-serif" font-size="17.57" text-anchor="start" fill="#000" stroke="#000" stroke-width="0.3">Ø</text>
<text transform="translate(400.82 759.5) scale(1.06 1)" font-family="Liberation Sans, sans-serif" font-size="17.86" text-anchor="start" fill="#000" stroke="#000" stroke-width="0.12">1</text>
<text transform="translate(412.22 759.5) scale(1.06 1)" font-family="Liberation Sans, sans-serif" font-size="17.86" text-anchor="start" fill="#000" stroke="#000" stroke-width="0.12">4</text>
<line x1="348.4" y1="747" x2="348.4" y2="817.5" stroke="#000" stroke-width="1.1"/>
<line x1="356.7" y1="747" x2="356.7" y2="817.5" stroke="#000" stroke-width="1.1"/>
<line x1="74" y1="797.6" x2="284" y2="797.6" stroke="#000" stroke-width="1.1"/>
<line x1="74" y1="947" x2="284" y2="947" stroke="#000" stroke-width="1.1"/>
<line x1="122.2" y1="819.6" x2="254" y2="819.6" stroke="#000" stroke-width="1.1"/>
<line x1="122.2" y1="925" x2="254" y2="925" stroke="#000" stroke-width="1.1"/>
<polygon points="80.4,797.6 83.9,811.4 80.4,808.64 76.9,811.4" fill="#000"/>
<polygon points="80.4,947 76.9,933.2 80.4,935.96 83.9,933.2" fill="#000"/>
<line x1="80.4" y1="805" x2="80.4" y2="856.3" stroke="#000" stroke-width="1.1"/>
<line x1="80.4" y1="887.5" x2="80.4" y2="939" stroke="#000" stroke-width="1.1"/>
<text transform="translate(62.61 878.8) scale(1.06 1)" font-family="Liberation Sans, sans-serif" font-size="18.57" text-anchor="start" fill="#000" textLength="34.04" lengthAdjust="spacing" stroke="#000" stroke-width="0.12">275</text>
<polygon points="128.8,819.6 132.3,833.4 128.8,830.64 125.3,833.4" fill="#000"/>
<polygon points="128.8,925 125.3,911.2 128.8,913.96 132.3,911.2" fill="#000"/>
<line x1="128.8" y1="827" x2="128.8" y2="856.3" stroke="#000" stroke-width="1.1"/>
<line x1="128.8" y1="887.5" x2="128.8" y2="917" stroke="#000" stroke-width="1.1"/>
<text transform="translate(112.11 878.8) scale(1.06 1)" font-family="Liberation Sans, sans-serif" font-size="18.57" text-anchor="start" fill="#000" textLength="32.63" lengthAdjust="spacing" stroke="#000" stroke-width="0.12">195</text>
<path d="M299.5 797.6 C362.2 797.6 374.2 804.6 374.2 872.3 C374.2 940 362.2 947 299.5 947 C236.8 947 224.8 940 224.8 872.3 C224.8 804.6 236.8 797.6 299.5 797.6 Z" fill="none" stroke="#000" stroke-width="1" stroke-dasharray="17 6" stroke-dashoffset="8"/>
<line x1="299.5" y1="792.6" x2="299.5" y2="798.8" stroke="#000" stroke-width="1"/>
<line x1="299.5" y1="803" x2="299.5" y2="855" stroke="#000" stroke-width="1"/>
<line x1="299.5" y1="865" x2="299.5" y2="880" stroke="#000" stroke-width="1"/>
<line x1="299.5" y1="890" x2="299.5" y2="950.4" stroke="#000" stroke-width="1"/>
<line x1="218.5" y1="872.3" x2="282.8" y2="872.3" stroke="#000" stroke-width="1"/>
<line x1="293" y1="872.3" x2="305.7" y2="872.3" stroke="#000" stroke-width="1"/>
<line x1="316" y1="872.3" x2="380.4" y2="872.3" stroke="#000" stroke-width="1"/>
<path d="M247.6 816.6 A3 3 0 0 1 247.6 822.6" fill="none" stroke="#000" stroke-width="1" />
<line x1="247.6" y1="812.6" x2="247.6" y2="826.6" stroke="#000" stroke-width="0.9"/>
<line x1="240.6" y1="819.6" x2="254.6" y2="819.6" stroke="#000" stroke-width="0.9"/>
<path d="M247.6 922 A3 3 0 0 1 247.6 928" fill="none" stroke="#000" stroke-width="1" />
<line x1="247.6" y1="918" x2="247.6" y2="932" stroke="#000" stroke-width="0.9"/>
<line x1="240.6" y1="925" x2="254.6" y2="925" stroke="#000" stroke-width="0.9"/>
<path d="M352.2 816.6 A3 3 0 0 1 352.2 822.6" fill="none" stroke="#000" stroke-width="1" />
<line x1="352.2" y1="812.6" x2="352.2" y2="826.6" stroke="#000" stroke-width="0.9"/>
<line x1="345.2" y1="819.6" x2="359.2" y2="819.6" stroke="#000" stroke-width="0.9"/>
<path d="M352.2 922 A3 3 0 0 1 352.2 928" fill="none" stroke="#000" stroke-width="1" />
<line x1="352.2" y1="918" x2="352.2" y2="932" stroke="#000" stroke-width="0.9"/>
<line x1="345.2" y1="925" x2="359.2" y2="925" stroke="#000" stroke-width="0.9"/>
<line x1="247.6" y1="932" x2="247.6" y2="1012.7" stroke="#000" stroke-width="1.1"/>
<line x1="352.2" y1="932" x2="352.2" y2="1012.7" stroke="#000" stroke-width="1.1"/>
<polygon points="247.6,1007.3 261.4,1003.8 258.64,1007.3 261.4,1010.8" fill="#000"/>
<polygon points="352.2,1007.3 338.4,1010.8 341.16,1007.3 338.4,1003.8" fill="#000"/>
<line x1="257" y1="1007.3" x2="279.5" y2="1007.3" stroke="#000" stroke-width="1.1"/>
<line x1="320.5" y1="1007.3" x2="343" y2="1007.3" stroke="#000" stroke-width="1.1"/>
<text transform="translate(282.41 1013.9) scale(1.06 1)" font-family="Liberation Sans, sans-serif" font-size="18.57" text-anchor="start" fill="#000" textLength="33.29" lengthAdjust="spacing" stroke="#000" stroke-width="0.12">195</text>
<line x1="224.8" y1="884" x2="224.8" y2="1062.5" stroke="#000" stroke-width="1.1"/>
<line x1="374.2" y1="884" x2="374.2" y2="1062.5" stroke="#000" stroke-width="1.1"/>
<polygon points="224.8,1056.3 238.6,1052.8 235.84,1056.3 238.6,1059.8" fill="#000"/>
<polygon points="374.2,1056.3 360.4,1059.8 363.16,1056.3 360.4,1052.8" fill="#000"/>
<line x1="234" y1="1056.3" x2="279.5" y2="1056.3" stroke="#000" stroke-width="1.1"/>
<line x1="320.5" y1="1056.3" x2="365" y2="1056.3" stroke="#000" stroke-width="1.1"/>
<text transform="translate(282.41 1063.4) scale(1.06 1)" font-family="Liberation Sans, sans-serif" font-size="18.57" text-anchor="start" fill="#000" textLength="33.29" lengthAdjust="spacing" stroke="#000" stroke-width="0.12">275</text>
<!-- top_view -->
<path d="M759.8 797.7 C820.6 797.7 831.6 803.7 831.6 872.4 C831.6 939.2 820.6 945.2 759.8 945.2 C699 945.2 688 939.2 688 872.4 C688 803.7 699 797.7 759.8 797.7 Z" fill="none" stroke="#000" stroke-width="1" stroke-dasharray="16 6.5" stroke-dashoffset="8"/>
<circle cx="759.4" cy="872.4" r="68" fill="none" stroke="#000" stroke-width="1.05"/>
<path d="M709.61 914.18 A65 65 0 0 0 739.31 934.22" fill="none" stroke="#000" stroke-width="1.05" />
<path d="M809.19 914.18 A65 65 0 0 1 779.49 934.22" fill="none" stroke="#000" stroke-width="1.05" />
<circle cx="706.5" cy="819.4" r="3" fill="none" stroke="#000" stroke-width="0.75"/>
<line x1="706.5" y1="811.4" x2="706.5" y2="827.4" stroke="#000" stroke-width="0.75"/>
<line x1="698.5" y1="819.4" x2="714.5" y2="819.4" stroke="#000" stroke-width="0.75"/>
<circle cx="706.5" cy="925.4" r="3" fill="none" stroke="#000" stroke-width="0.75"/>
<line x1="706.5" y1="917.4" x2="706.5" y2="933.4" stroke="#000" stroke-width="0.75"/>
<line x1="698.5" y1="925.4" x2="714.5" y2="925.4" stroke="#000" stroke-width="0.75"/>
<circle cx="813" cy="819.4" r="3" fill="none" stroke="#000" stroke-width="0.75"/>
<line x1="813" y1="811.4" x2="813" y2="827.4" stroke="#000" stroke-width="0.75"/>
<line x1="805" y1="819.4" x2="821" y2="819.4" stroke="#000" stroke-width="0.75"/>
<circle cx="813" cy="925.4" r="3" fill="none" stroke="#000" stroke-width="0.75"/>
<line x1="813" y1="917.4" x2="813" y2="933.4" stroke="#000" stroke-width="0.75"/>
<line x1="805" y1="925.4" x2="821" y2="925.4" stroke="#000" stroke-width="0.75"/>
<rect x="674.3" y="831.4" width="8.3" height="81.9" rx="0" fill="#fff" stroke="#000" stroke-width="1.05"/>
<rect x="672.5" y="849.2" width="1.8" height="46.4" rx="0" fill="none" stroke="#000" stroke-width="0.75"/>
<rect x="836.3" y="831.4" width="8.5" height="81.9" rx="0" fill="#fff" stroke="#000" stroke-width="1.05"/>
<rect x="844.8" y="849.2" width="1.7" height="46.4" rx="0" fill="none" stroke="#000" stroke-width="0.75"/>
<path d="M682.6 865.8 L678.5 867.5 L676.4 870 L676.4 875 L678.5 877.5 L682.6 879.2" fill="none" stroke="#000" stroke-width="0.75" />
<line x1="823.4" y1="849.7" x2="836.3" y2="856.4" stroke="#000" stroke-width="1.05"/>
<line x1="825.5" y1="852.5" x2="836.3" y2="854.8" stroke="#000" stroke-width="0.75"/>
<line x1="823.4" y1="895.1" x2="836.3" y2="888.4" stroke="#000" stroke-width="1.05"/>
<line x1="825.5" y1="892.3" x2="836.3" y2="890" stroke="#000" stroke-width="0.75"/>
<line x1="828" y1="856" x2="836.3" y2="858.5" stroke="#000" stroke-width="0.75"/>
<line x1="828" y1="888.8" x2="836.3" y2="886.3" stroke="#000" stroke-width="0.75"/>
<path d="M836.3 864 Q827 864.5 827 872.4 Q827 880.3 836.3 881" fill="none" stroke="#000" stroke-width="1.6" />
<path d="M830.5 864.8 L838 864.8 L842.5 872.4 L838 880 L830.5 880 L828.2 872.4 Z" fill="none" stroke="#000" stroke-width="1.05" />
<path d="M704.5 819.8 L716.5 819.6 Q722 820.5 728 824.5" fill="none" stroke="#000" stroke-width="1.05" />
<path d="M704.5 819.8 L702.5 827" fill="none" stroke="#000" stroke-width="1.05" />
<path d="M792.7 821.1 L801.6 819 L812.5 830.5 L808 839" fill="none" stroke="#000" stroke-width="1.05" />
<circle cx="708" cy="823.8" r="2.2" fill="none" stroke="#000" stroke-width="1.4"/>
<circle cx="716.9" cy="823.8" r="2.3" fill="#111" stroke="#000" stroke-width="0"/>
<circle cx="801.9" cy="823.9" r="2.4" fill="#111" stroke="#000" stroke-width="0"/>
<circle cx="808.3" cy="829.2" r="2.1" fill="none" stroke="#000" stroke-width="1.4"/>
<path d="M704.5 925 L716.5 925.2 Q722 924.3 728 920.3" fill="none" stroke="#000" stroke-width="1.05" />
<path d="M704.5 925 L702.5 917.8" fill="none" stroke="#000" stroke-width="1.05" />
<path d="M792.7 923.7 L801.6 925.8 L812.5 914.3 L808 905.8" fill="none" stroke="#000" stroke-width="1.05" />
<circle cx="708" cy="921" r="2.2" fill="none" stroke="#000" stroke-width="1.4"/>
<circle cx="716.9" cy="921" r="2.3" fill="#111" stroke="#000" stroke-width="0"/>
<circle cx="801.9" cy="920.9" r="2.4" fill="#111" stroke="#000" stroke-width="0"/>
<circle cx="808.3" cy="915.6" r="2.1" fill="none" stroke="#000" stroke-width="1.4"/>
<circle cx="759.4" cy="872.4" r="53.2" fill="none" stroke="#111" stroke-width="5.4"/>
<circle cx="759.4" cy="872.4" r="53.3" fill="none" stroke="#4a4a4a" stroke-width="1.6" stroke-dasharray="0.9 2.2"/>
<path d="M699.2 831 Q699.2 827.4 703 827.4 L751 827.4 L751 917 L703 917 Q699.2 917 699.2 913.5 Z" fill="#fff" stroke="#000" stroke-width="2" />
<line x1="751" y1="827.4" x2="751" y2="917" stroke="#000" stroke-width="2.2"/>
<line x1="699.6" y1="830" x2="699.6" y2="914" stroke="#000" stroke-width="3"/>
<line x1="702" y1="827.6" x2="751" y2="827.6" stroke="#000" stroke-width="2.6"/>
<line x1="702" y1="916.8" x2="751" y2="916.8" stroke="#000" stroke-width="2.6"/>
<rect x="694.5" y="833" width="4.7" height="78.5" rx="0" fill="#fff" stroke="#000" stroke-width="1.6"/>
<line x1="696.8" y1="833" x2="696.8" y2="911.5" stroke="#000" stroke-width="1.3"/>
<rect x="685" y="835.2" width="8.5" height="9.6" rx="2.2" fill="#fff" stroke="#000" stroke-width="2"/>
<rect x="687.2" y="837.2" width="4.3" height="5.6" rx="1" fill="#fff" stroke="#000" stroke-width="1.3"/>
<rect x="683.4" y="836.8" width="1.6" height="6.4" rx="0" fill="#bbb" stroke="#000" stroke-width="1"/>
<rect x="693.5" y="836.4" width="1.3" height="7.2" rx="0" fill="#444" stroke="#000" stroke-width="0.9"/>
<rect x="685" y="847.1" width="8.5" height="9.6" rx="2.2" fill="#fff" stroke="#000" stroke-width="2"/>
<rect x="687.2" y="849.1" width="4.3" height="5.6" rx="1" fill="#fff" stroke="#000" stroke-width="1.3"/>
<rect x="683.4" y="848.7" width="1.6" height="6.4" rx="0" fill="#bbb" stroke="#000" stroke-width="1"/>
<rect x="693.5" y="848.3" width="1.3" height="7.2" rx="0" fill="#444" stroke="#000" stroke-width="0.9"/>
<rect x="685" y="858.6" width="8.5" height="9.6" rx="2.2" fill="#fff" stroke="#000" stroke-width="2"/>
<rect x="687.2" y="860.6" width="4.3" height="5.6" rx="1" fill="#fff" stroke="#000" stroke-width="1.3"/>
<rect x="683.4" y="860.2" width="1.6" height="6.4" rx="0" fill="#bbb" stroke="#000" stroke-width="1"/>
<rect x="693.5" y="859.8" width="1.3" height="7.2" rx="0" fill="#444" stroke="#000" stroke-width="0.9"/>
<rect x="685" y="869.6" width="8.5" height="9.6" rx="2.2" fill="#fff" stroke="#000" stroke-width="2"/>
<rect x="687.2" y="871.6" width="4.3" height="5.6" rx="1" fill="#fff" stroke="#000" stroke-width="1.3"/>
<rect x="683.4" y="871.2" width="1.6" height="6.4" rx="0" fill="#bbb" stroke="#000" stroke-width="1"/>
<rect x="693.5" y="870.8" width="1.3" height="7.2" rx="0" fill="#444" stroke="#000" stroke-width="0.9"/>
<rect x="685" y="881.1" width="8.5" height="9.6" rx="2.2" fill="#fff" stroke="#000" stroke-width="2"/>
<rect x="687.2" y="883.1" width="4.3" height="5.6" rx="1" fill="#fff" stroke="#000" stroke-width="1.3"/>
<rect x="683.4" y="882.7" width="1.6" height="6.4" rx="0" fill="#bbb" stroke="#000" stroke-width="1"/>
<rect x="693.5" y="882.3" width="1.3" height="7.2" rx="0" fill="#444" stroke="#000" stroke-width="0.9"/>
<rect x="685" y="893.1" width="8.5" height="9.6" rx="2.2" fill="#fff" stroke="#000" stroke-width="2"/>
<rect x="687.2" y="895.1" width="4.3" height="5.6" rx="1" fill="#fff" stroke="#000" stroke-width="1.3"/>
<rect x="683.4" y="894.7" width="1.6" height="6.4" rx="0" fill="#bbb" stroke="#000" stroke-width="1"/>
<rect x="693.5" y="894.3" width="1.3" height="7.2" rx="0" fill="#444" stroke="#000" stroke-width="0.9"/>
<circle cx="701.3" cy="831.2" r="2.5" fill="#fff" stroke="#000" stroke-width="1.5"/>
<line x1="701.3" y1="829.2" x2="701.3" y2="833.2" stroke="#000" stroke-width="0.75"/>
<circle cx="701.3" cy="872.4" r="2.5" fill="#fff" stroke="#000" stroke-width="1.5"/>
<line x1="701.3" y1="870.4" x2="701.3" y2="874.4" stroke="#000" stroke-width="0.75"/>
<circle cx="701.3" cy="913.6" r="2.5" fill="#fff" stroke="#000" stroke-width="1.5"/>
<line x1="701.3" y1="911.6" x2="701.3" y2="915.6" stroke="#000" stroke-width="0.75"/>
<circle cx="747.5" cy="831.2" r="2.5" fill="#fff" stroke="#000" stroke-width="1.5"/>
<line x1="747.5" y1="829.2" x2="747.5" y2="833.2" stroke="#000" stroke-width="0.75"/>
<circle cx="747.5" cy="872.4" r="2.5" fill="#fff" stroke="#000" stroke-width="1.5"/>
<line x1="747.5" y1="870.4" x2="747.5" y2="874.4" stroke="#000" stroke-width="0.75"/>
<circle cx="747.5" cy="913.6" r="2.5" fill="#fff" stroke="#000" stroke-width="1.5"/>
<line x1="747.5" y1="911.6" x2="747.5" y2="915.6" stroke="#000" stroke-width="0.75"/>
<circle cx="701.3" cy="831.2" r="3.6" fill="none" stroke="#000" stroke-width="1.6"/>
<circle cx="701.3" cy="913.6" r="3.6" fill="none" stroke="#000" stroke-width="1.6"/>
<path d="M751 829.5 L735 830 Q722 830.5 717.5 841 Q710 857 710 872.4 Q710 887.8 717.5 903.8 Q722 914.3 735 914.8 L751 915.3" fill="none" stroke="#000" stroke-width="1.05" />
<path d="M751 831.1 L735 831.6 Q722 832.1 717.5 841.96 Q711.6 857 711.6 872.4 Q711.6 887.8 717.5 902.84 Q722 912.7 735 913.2 L751 913.7" fill="none" stroke="#000" stroke-width="0.75" />
<path d="M751 832.7 L735 833.2 Q722 833.7 717.5 842.92 Q713.2 857 713.2 872.4 Q713.2 887.8 717.5 901.88 Q722 911.1 735 911.6 L751 912.1" fill="none" stroke="#000" stroke-width="1.05" />
<path d="M751 828 Q776 828.6 789 834 Q804.5 846 807.3 872.4 Q804.5 898.8 789 910.8 Q776 916.2 751 916.8" fill="none" stroke="#000" stroke-width="1.05" />
<path d="M751 829.6 Q776 830.2 789 835.28 Q803.22 846 805.7 872.4 Q803.22 898.8 789 909.52 Q776 914.6 751 915.2" fill="none" stroke="#000" stroke-width="0.75" />
<path d="M751 831.2 Q776 831.8 789 836.56 Q801.94 846 804.1 872.4 Q801.94 898.8 789 908.24 Q776 913 751 913.6" fill="none" stroke="#000" stroke-width="1.05" />
<rect x="755.6" y="839.7" width="39" height="25.4" rx="1.2" fill="#fff" stroke="#000" stroke-width="1.6"/>
<path d="M753 917 L753 869.5 Q753 867 755.5 867 L803.5 867" fill="none" stroke="#000" stroke-width="1.5" />
<line x1="754" y1="869.3" x2="804" y2="869.3" stroke="#000" stroke-width="0.75"/>
<line x1="752" y1="871.4" x2="805" y2="871.4" stroke="#000" stroke-width="1.6"/>
<line x1="755.3" y1="871.4" x2="755.3" y2="916" stroke="#000" stroke-width="1.05"/>
<line x1="757.2" y1="871.4" x2="757.2" y2="894" stroke="#000" stroke-width="0.75"/>
<line x1="802.5" y1="871.4" x2="802.5" y2="894" stroke="#000" stroke-width="1.05"/>
<line x1="804.4" y1="869" x2="804.4" y2="893" stroke="#000" stroke-width="0.75"/>
<rect x="762.3" y="874.7" width="34" height="3.3" rx="0" fill="#222" stroke="#000" stroke-width="0.5"/>
<line x1="763" y1="876.3" x2="796" y2="876.3" stroke="#fff" stroke-width="0.8" stroke-dasharray="1.6 1.2"/>
<rect x="761.7" y="878.9" width="35.1" height="9.1" rx="0" fill="#fff" stroke="#000" stroke-width="1.3"/>
<line x1="755.3" y1="893.5" x2="803.5" y2="893.5" stroke="#000" stroke-width="1.6"/>
<line x1="755.3" y1="895.6" x2="803" y2="895.6" stroke="#888" stroke-width="2.2"/>
<line x1="755.3" y1="897.6" x2="802.3" y2="897.6" stroke="#000" stroke-width="1.5"/>
<line x1="757.2" y1="898" x2="757.2" y2="917" stroke="#000" stroke-width="1.05"/>
<line x1="759.6" y1="903" x2="759.6" y2="918" stroke="#000" stroke-width="0.75"/>
<circle cx="768" cy="905.4" r="2.8" fill="#111" stroke="#000" stroke-width="0"/>
<circle cx="768" cy="905.4" r="0.7" fill="#ddd" stroke="#000" stroke-width="0"/>
<circle cx="775.6" cy="905.4" r="2.8" fill="#111" stroke="#000" stroke-width="0"/>
<circle cx="775.6" cy="905.4" r="0.7" fill="#ddd" stroke="#000" stroke-width="0"/>
<circle cx="782.9" cy="905.4" r="2.8" fill="#111" stroke="#000" stroke-width="0"/>
<circle cx="782.9" cy="905.4" r="0.7" fill="#ddd" stroke="#000" stroke-width="0"/>
<circle cx="790.5" cy="905.4" r="2.8" fill="#111" stroke="#000" stroke-width="0"/>
<circle cx="790.5" cy="905.4" r="0.7" fill="#ddd" stroke="#000" stroke-width="0"/>
<circle cx="762.9" cy="912.6" r="1.7" fill="none" stroke="#000" stroke-width="1"/>
<circle cx="768.1" cy="912.6" r="1.7" fill="none" stroke="#000" stroke-width="1"/>
<circle cx="773.6" cy="912.6" r="1.7" fill="none" stroke="#000" stroke-width="1"/>
<path d="M755.3 920.5 Q785 918 802 900" fill="none" stroke="#000" stroke-width="1.05" />
<rect x="737.1" y="926.5" width="45.3" height="14.5" rx="0" fill="#fff" stroke="#000" stroke-width="1.05"/>
<line x1="737.1" y1="931.7" x2="782.4" y2="931.7" stroke="#000" stroke-width="1.05"/>
<line x1="744" y1="926.5" x2="744" y2="931.7" stroke="#000" stroke-width="0.75"/>
<line x1="775" y1="926.5" x2="775" y2="931.7" stroke="#000" stroke-width="0.75"/>
<line x1="740.5" y1="931.7" x2="740.5" y2="941" stroke="#000" stroke-width="0.75"/>
<line x1="779" y1="931.7" x2="779" y2="941" stroke="#000" stroke-width="0.75"/>
<line x1="736" y1="941" x2="783.5" y2="941" stroke="#000" stroke-width="2.4"/>
<path d="M739 942 L742 946 L777 946 L780 942" fill="none" stroke="#000" stroke-width="0.75" />
<rect x="750" y="942.2" width="19" height="4.8" rx="0" fill="#999" stroke="#000" stroke-width="0"/>
<path d="M784.42 919.46 A53.3 53.3 0 0 1 734.38 919.46" fill="none" stroke="#111" stroke-width="5.4" />
<line x1="759.4" y1="799.5" x2="759.4" y2="950.8" stroke="#000" stroke-width="1" stroke-dasharray="40 5 8 5"/>
<line x1="668" y1="872.4" x2="852" y2="872.4" stroke="#000" stroke-width="0.9" stroke-dasharray="26 7 14 7" stroke-dashoffset="3"/>
<!-- top_dims -->
<line x1="602.8" y1="872.2" x2="668" y2="872.2" stroke="#000" stroke-width="1"/>
<line x1="602.8" y1="944.8" x2="752" y2="944.8" stroke="#000" stroke-width="1.2"/>
<polygon points="609.9,872.2 613.4,886 609.9,883.24 606.4,886" fill="#000"/>
<polygon points="609.9,944.8 606.4,931 609.9,933.76 613.4,931" fill="#000"/>
<line x1="609.9" y1="880" x2="609.9" y2="894" stroke="#000" stroke-width="1.1"/>
<line x1="609.9" y1="921" x2="609.9" y2="937" stroke="#000" stroke-width="1.1"/>
<text transform="translate(597.99 915.7) scale(0.86 1)" font-family="Liberation Sans, sans-serif" font-size="18.29" text-anchor="start" fill="#000" textLength="28.16" lengthAdjust="spacing" stroke="#000" stroke-width="0.12">AD</text>
<line x1="850" y1="872.2" x2="922.5" y2="872.2" stroke="#000" stroke-width="1"/>
<polygon points="916.2,872.2 919.7,886 916.2,883.24 912.7,886" fill="#000"/>
<polygon points="916.2,941 912.7,927.2 916.2,929.96 919.7,927.2" fill="#000"/>
<line x1="916.2" y1="880" x2="916.2" y2="894" stroke="#000" stroke-width="1.1"/>
<line x1="916.2" y1="921" x2="916.2" y2="933" stroke="#000" stroke-width="1.1"/>
<text transform="translate(903.7 915.2) scale(1.06 1)" font-family="Liberation Sans, sans-serif" font-size="18.86" text-anchor="start" fill="#000" textLength="20.57" lengthAdjust="spacing" stroke="#000" stroke-width="0.12">b1</text>
<line x1="770.4" y1="804.2" x2="971" y2="804.2" stroke="#000" stroke-width="1.1"/>
<line x1="783" y1="941" x2="971" y2="941" stroke="#000" stroke-width="1.1"/>
<polygon points="965.2,804.2 968.7,818 965.2,815.24 961.7,818" fill="#000"/>
<polygon points="965.2,941 961.7,927.2 965.2,929.96 968.7,927.2" fill="#000"/>
<line x1="965.2" y1="812" x2="965.2" y2="860" stroke="#000" stroke-width="1.1"/>
<line x1="965.2" y1="888" x2="965.2" y2="933" stroke="#000" stroke-width="1.1"/>
<text transform="translate(939.59 879.6) scale(0.86 1)" font-family="Liberation Sans, sans-serif" font-size="18.29" text-anchor="start" fill="#000" textLength="56.65" lengthAdjust="spacing" stroke="#000" stroke-width="0.12">Bmax</text>
<text x="603.5" y="1020.5" font-family="Liberation Sans, sans-serif" font-size="17" font-weight="normal" text-anchor="start" fill="#222" textLength="312" lengthAdjust="spacing" >(1) КЛАПАН ДЛЯ СПУСКА ВОЗДУХА</text>
<text x="603.5" y="1047.2" font-family="Liberation Sans, sans-serif" font-size="17" font-weight="normal" text-anchor="start" fill="#222" textLength="235" lengthAdjust="spacing" >(2) ПРИСОЕДИНЕНИЕ ДЛЯ</text>
<text x="631" y="1074" font-family="Liberation Sans, sans-serif" font-size="17" font-weight="normal" text-anchor="start" fill="#222" textLength="114.5" lengthAdjust="spacing" >МАНОМЕТРА</text>
<text x="603.5" y="1100.7" font-family="Liberation Sans, sans-serif" font-size="17" font-weight="normal" text-anchor="start" fill="#222" textLength="231.8" lengthAdjust="spacing" >(3) СЛИВНОЕ ОТВЕРСТИЕ</text>
<!-- table -->
<text x="877.7" y="1164.7" font-family="Liberation Sans, sans-serif" font-size="16.5" font-weight="normal" text-anchor="start" fill="#222" textLength="79" lengthAdjust="spacing" >ФЛАНЦЫ</text>
<rect x="623.8" y="1175.8" width="334.2" height="212.4" rx="0" fill="none" stroke="#000" stroke-width="1.6"/>
<line x1="623.8" y1="1208.8" x2="958" y2="1208.8" stroke="#000" stroke-width="1.1"/>
<line x1="623.8" y1="1242" x2="958" y2="1242" stroke="#000" stroke-width="1.1"/>
<line x1="623.8" y1="1271.3" x2="958" y2="1271.3" stroke="#000" stroke-width="1.1"/>
<line x1="623.8" y1="1300.8" x2="958" y2="1300.8" stroke="#000" stroke-width="1.1"/>
<line x1="623.8" y1="1329.8" x2="958" y2="1329.8" stroke="#000" stroke-width="1.1"/>
<line x1="623.8" y1="1359.2" x2="958" y2="1359.2" stroke="#000" stroke-width="1.1"/>
<line x1="684.5" y1="1208.8" x2="684.5" y2="1388.2" stroke="#000" stroke-width="1.1"/>
<line x1="734.3" y1="1208.8" x2="734.3" y2="1388.2" stroke="#000" stroke-width="1.1"/>
<line x1="797.5" y1="1208.8" x2="797.5" y2="1388.2" stroke="#000" stroke-width="1.1"/>
<line x1="843.3" y1="1208.8" x2="843.3" y2="1388.2" stroke="#000" stroke-width="1.1"/>
<line x1="896" y1="1208.8" x2="896" y2="1388.2" stroke="#000" stroke-width="1.1"/>
<text transform="translate(678.6 1199.5) scale(1.05 1)" font-family="Liberation Sans, sans-serif" font-size="19.14" text-anchor="start" fill="#000" textLength="212.2" lengthAdjust="spacing" stroke="#000" stroke-width="0.12">EN1092-2, PN 16 *)</text>
<text transform="translate(644.11 1231.8) scale(0.86 1)" font-family="Liberation Sans, sans-serif" font-size="16.43" text-anchor="start" fill="#000" textLength="23.34" lengthAdjust="spacing" stroke="#000" stroke-width="0.12">DN</text>
<text transform="translate(704.11 1231.8) scale(0.86 1)" font-family="Liberation Sans, sans-serif" font-size="16.43" text-anchor="start" fill="#000" textLength="12.29" lengthAdjust="spacing" stroke="#000" stroke-width="0.12">D</text>
<text transform="translate(760.86 1231.8) scale(0.86 1)" font-family="Liberation Sans, sans-serif" font-size="16.43" text-anchor="start" fill="#000" textLength="11.71" lengthAdjust="spacing" stroke="#000" stroke-width="0.12">K</text>
<text transform="translate(815.01 1231.8) scale(0.86 1)" font-family="Liberation Sans, sans-serif" font-size="16.43" text-anchor="start" fill="#000" textLength="12.53" lengthAdjust="spacing" stroke="#000" stroke-width="0.12">C</text>
<text transform="translate(860.41 1231.8) scale(1 1)" font-family="Liberation Sans, sans-serif" font-size="16.43" text-anchor="start" fill="#000" textLength="18.48" lengthAdjust="spacing" stroke="#000" stroke-width="0.12">df</text>
<text transform="translate(922.61 1231.8) scale(0.86 1)" font-family="Liberation Sans, sans-serif" font-size="16.43" text-anchor="start" fill="#000" textLength="10.2" lengthAdjust="spacing" stroke="#000" stroke-width="0.12">L</text>
<text transform="translate(644.96 1263) scale(1.06 1)" font-family="Liberation Sans, sans-serif" font-size="16.14" text-anchor="start" fill="#000" textLength="17.91" lengthAdjust="spacing" stroke="#000" stroke-width="0.12">40</text>
<text transform="translate(695.36 1263) scale(1.06 1)" font-family="Liberation Sans, sans-serif" font-size="16.14" text-anchor="start" fill="#000" textLength="27.06" lengthAdjust="spacing" stroke="#000" stroke-width="0.12">150</text>
<text transform="translate(751.86 1263) scale(1.06 1)" font-family="Liberation Sans, sans-serif" font-size="16.14" text-anchor="start" fill="#000" textLength="27.06" lengthAdjust="spacing" stroke="#000" stroke-width="0.12">110</text>
<text transform="translate(811.21 1263) scale(1.06 1)" font-family="Liberation Sans, sans-serif" font-size="16.14" text-anchor="start" fill="#000" textLength="17.91" lengthAdjust="spacing" stroke="#000" stroke-width="0.12">18</text>
<text transform="translate(860.46 1263) scale(1.06 1)" font-family="Liberation Sans, sans-serif" font-size="16.14" text-anchor="start" fill="#000" textLength="17.91" lengthAdjust="spacing" stroke="#000" stroke-width="0.12">84</text>
<text transform="translate(907.46 1263) scale(1.06 1)" font-family="Liberation Sans, sans-serif" font-size="16.14" text-anchor="start" fill="#000" textLength="37.44" lengthAdjust="spacing" stroke="#000" stroke-width="0.12">4x19</text>
<text transform="translate(644.96 1292) scale(1.06 1)" font-family="Liberation Sans, sans-serif" font-size="16.14" text-anchor="start" fill="#000" textLength="17.91" lengthAdjust="spacing" stroke="#000" stroke-width="0.12">50</text>
<text transform="translate(695.36 1292) scale(1.06 1)" font-family="Liberation Sans, sans-serif" font-size="16.14" text-anchor="start" fill="#000" textLength="27.06" lengthAdjust="spacing" stroke="#000" stroke-width="0.12">165</text>
<text transform="translate(751.86 1292) scale(1.06 1)" font-family="Liberation Sans, sans-serif" font-size="16.14" text-anchor="start" fill="#000" textLength="27.06" lengthAdjust="spacing" stroke="#000" stroke-width="0.12">125</text>
<text transform="translate(811.21 1292) scale(1.06 1)" font-family="Liberation Sans, sans-serif" font-size="16.14" text-anchor="start" fill="#000" textLength="17.91" lengthAdjust="spacing" stroke="#000" stroke-width="0.12">20</text>
<text transform="translate(860.46 1292) scale(1.06 1)" font-family="Liberation Sans, sans-serif" font-size="16.14" text-anchor="start" fill="#000" textLength="17.91" lengthAdjust="spacing" stroke="#000" stroke-width="0.12">99</text>
<text transform="translate(907.46 1292) scale(1.06 1)" font-family="Liberation Sans, sans-serif" font-size="16.14" text-anchor="start" fill="#000" textLength="37.44" lengthAdjust="spacing" stroke="#000" stroke-width="0.12">4x19</text>
<text transform="translate(644.96 1321.3) scale(1.06 1)" font-family="Liberation Sans, sans-serif" font-size="16.14" text-anchor="start" fill="#000" textLength="17.91" lengthAdjust="spacing" stroke="#000" stroke-width="0.12">65</text>
<text transform="translate(695.36 1321.3) scale(1.06 1)" font-family="Liberation Sans, sans-serif" font-size="16.14" text-anchor="start" fill="#000" textLength="27.06" lengthAdjust="spacing" stroke="#000" stroke-width="0.12">185</text>
<text transform="translate(751.86 1321.3) scale(1.06 1)" font-family="Liberation Sans, sans-serif" font-size="16.14" text-anchor="start" fill="#000" textLength="27.06" lengthAdjust="spacing" stroke="#000" stroke-width="0.12">145</text>
<text transform="translate(811.21 1321.3) scale(1.06 1)" font-family="Liberation Sans, sans-serif" font-size="16.14" text-anchor="start" fill="#000" textLength="17.91" lengthAdjust="spacing" stroke="#000" stroke-width="0.12">20</text>
<text transform="translate(855.61 1321.3) scale(1.06 1)" font-family="Liberation Sans, sans-serif" font-size="16.14" text-anchor="start" fill="#000" textLength="27.06" lengthAdjust="spacing" stroke="#000" stroke-width="0.12">118</text>
<text transform="translate(907.46 1321.3) scale(1.06 1)" font-family="Liberation Sans, sans-serif" font-size="16.14" text-anchor="start" fill="#000" textLength="37.44" lengthAdjust="spacing" stroke="#000" stroke-width="0.12">4x19</text>
<text transform="translate(644.96 1350.5) scale(1.06 1)" font-family="Liberation Sans, sans-serif" font-size="16.14" text-anchor="start" fill="#000" textLength="17.91" lengthAdjust="spacing" stroke="#000" stroke-width="0.12">80</text>
<text transform="translate(695.36 1350.5) scale(1.06 1)" font-family="Liberation Sans, sans-serif" font-size="16.14" text-anchor="start" fill="#000" textLength="27.06" lengthAdjust="spacing" stroke="#000" stroke-width="0.12">200</text>
<text transform="translate(751.86 1350.5) scale(1.06 1)" font-family="Liberation Sans, sans-serif" font-size="16.14" text-anchor="start" fill="#000" textLength="27.06" lengthAdjust="spacing" stroke="#000" stroke-width="0.12">160</text>
<text transform="translate(811.21 1350.5) scale(1.06 1)" font-family="Liberation Sans, sans-serif" font-size="16.14" text-anchor="start" fill="#000" textLength="17.91" lengthAdjust="spacing" stroke="#000" stroke-width="0.12">22</text>
<text transform="translate(855.61 1350.5) scale(1.06 1)" font-family="Liberation Sans, sans-serif" font-size="16.14" text-anchor="start" fill="#000" textLength="27.06" lengthAdjust="spacing" stroke="#000" stroke-width="0.12">132</text>
<text transform="translate(907.46 1350.5) scale(1.06 1)" font-family="Liberation Sans, sans-serif" font-size="16.14" text-anchor="start" fill="#000" textLength="37.44" lengthAdjust="spacing" stroke="#000" stroke-width="0.12">8x19</text>
<text transform="translate(640.11 1380) scale(1.06 1)" font-family="Liberation Sans, sans-serif" font-size="16.14" text-anchor="start" fill="#000" textLength="27.06" lengthAdjust="spacing" stroke="#000" stroke-width="0.12">100</text>
<text transform="translate(695.36 1380) scale(1.06 1)" font-family="Liberation Sans, sans-serif" font-size="16.14" text-anchor="start" fill="#000" textLength="27.06" lengthAdjust="spacing" stroke="#000" stroke-width="0.12">230</text>
<text transform="translate(751.86 1380) scale(1.06 1)" font-family="Liberation Sans, sans-serif" font-size="16.14" text-anchor="start" fill="#000" textLength="27.06" lengthAdjust="spacing" stroke="#000" stroke-width="0.12">180</text>
<text transform="translate(811.21 1380) scale(1.06 1)" font-family="Liberation Sans, sans-serif" font-size="16.14" text-anchor="start" fill="#000" textLength="17.91" lengthAdjust="spacing" stroke="#000" stroke-width="0.12">24</text>
<text transform="translate(855.61 1380) scale(1.06 1)" font-family="Liberation Sans, sans-serif" font-size="16.14" text-anchor="start" fill="#000" textLength="27.06" lengthAdjust="spacing" stroke="#000" stroke-width="0.12">157</text>
<text transform="translate(907.46 1380) scale(1.06 1)" font-family="Liberation Sans, sans-serif" font-size="16.14" text-anchor="start" fill="#000" textLength="37.44" lengthAdjust="spacing" stroke="#000" stroke-width="0.12">8x19</text>
<text x="622.6" y="1407.7" font-family="Liberation Sans, sans-serif" font-size="17" font-weight="normal" text-anchor="start" fill="#222" textLength="294.2" lengthAdjust="spacing" >*) ...ЗНАЧЕНИЯ «C» И «D» МОГУТ</text>
<text x="622.6" y="1433.8" font-family="Liberation Sans, sans-serif" font-size="17" font-weight="normal" text-anchor="start" fill="#222" textLength="299.4" lengthAdjust="spacing" >ОТЛИЧАТЬСЯ ОТ СТАНДАРТНЫХ.</text>
<text transform="translate(1037.2 1446) rotate(-90) scale(0.8 1)" font-family="Liberation Sans, sans-serif" font-size="15.8" textLength="182" lengthAdjust="spacing" stroke="#000" stroke-width="0.35">A0033HVL-EN_A_DD</text>
<!-- flanges -->
<circle cx="191.1" cy="1273.8" r="69" fill="none" stroke="#000" stroke-width="1.2"/>
<circle cx="191.1" cy="1273.8" r="41.7" fill="none" stroke="#000" stroke-width="1.2"/>
<circle cx="191.1" cy="1273.8" r="20.6" fill="none" stroke="#000" stroke-width="1.2"/>
<circle cx="228.08" cy="1310.78" r="7.5" fill="none" stroke="#000" stroke-width="1.6"/>
<line x1="225.25" y1="1307.95" x2="230.91" y2="1313.61" stroke="#000" stroke-width="0.8"/>
<line x1="234.8" y1="1304.06" x2="221.36" y2="1317.5" stroke="#000" stroke-width="0.8"/>
<circle cx="154.12" cy="1310.78" r="7.5" fill="none" stroke="#000" stroke-width="1.6"/>
<line x1="156.95" y1="1307.95" x2="151.29" y2="1313.61" stroke="#000" stroke-width="0.8"/>
<line x1="160.84" y1="1317.5" x2="147.4" y2="1304.06" stroke="#000" stroke-width="0.8"/>
<circle cx="154.12" cy="1236.82" r="7.5" fill="none" stroke="#000" stroke-width="1.6"/>
<line x1="156.95" y1="1239.65" x2="151.29" y2="1233.99" stroke="#000" stroke-width="0.8"/>
<line x1="147.4" y1="1243.54" x2="160.84" y2="1230.1" stroke="#000" stroke-width="0.8"/>
<circle cx="228.08" cy="1236.82" r="7.5" fill="none" stroke="#000" stroke-width="1.6"/>
<line x1="225.25" y1="1239.65" x2="230.91" y2="1233.99" stroke="#000" stroke-width="0.8"/>
<line x1="221.36" y1="1230.1" x2="234.8" y2="1243.54" stroke="#000" stroke-width="0.8"/>
<circle cx="428.4" cy="1273.8" r="83.6" fill="none" stroke="#000" stroke-width="1.2"/>
<circle cx="428.4" cy="1273.8" r="55" fill="none" stroke="#000" stroke-width="1.2"/>
<circle cx="428.4" cy="1273.8" r="33.2" fill="none" stroke="#000" stroke-width="1.2"/>
<circle cx="490.02" cy="1299.32" r="8" fill="none" stroke="#000" stroke-width="1.6"/>
<line x1="486.33" y1="1297.79" x2="493.72" y2="1300.86" stroke="#000" stroke-width="0.8"/>
<line x1="493.85" y1="1290.09" x2="486.2" y2="1308.56" stroke="#000" stroke-width="0.8"/>
<circle cx="453.92" cy="1335.42" r="8" fill="none" stroke="#000" stroke-width="1.6"/>
<line x1="452.39" y1="1331.73" x2="455.46" y2="1339.12" stroke="#000" stroke-width="0.8"/>
<line x1="463.16" y1="1331.6" x2="444.69" y2="1339.25" stroke="#000" stroke-width="0.8"/>
<circle cx="402.88" cy="1335.42" r="8" fill="none" stroke="#000" stroke-width="1.6"/>
<line x1="404.41" y1="1331.73" x2="401.34" y2="1339.12" stroke="#000" stroke-width="0.8"/>
<line x1="412.11" y1="1339.25" x2="393.64" y2="1331.6" stroke="#000" stroke-width="0.8"/>
<circle cx="366.78" cy="1299.32" r="8" fill="none" stroke="#000" stroke-width="1.6"/>
<line x1="370.47" y1="1297.79" x2="363.08" y2="1300.86" stroke="#000" stroke-width="0.8"/>
<line x1="370.6" y1="1308.56" x2="362.95" y2="1290.09" stroke="#000" stroke-width="0.8"/>
<circle cx="366.78" cy="1248.28" r="8" fill="none" stroke="#000" stroke-width="1.6"/>
<line x1="370.47" y1="1249.81" x2="363.08" y2="1246.74" stroke="#000" stroke-width="0.8"/>
<line x1="362.95" y1="1257.51" x2="370.6" y2="1239.04" stroke="#000" stroke-width="0.8"/>
<circle cx="402.88" cy="1212.18" r="8" fill="none" stroke="#000" stroke-width="1.6"/>
<line x1="404.41" y1="1215.87" x2="401.34" y2="1208.48" stroke="#000" stroke-width="0.8"/>
<line x1="393.64" y1="1216" x2="412.11" y2="1208.35" stroke="#000" stroke-width="0.8"/>
<circle cx="453.92" cy="1212.18" r="8" fill="none" stroke="#000" stroke-width="1.6"/>
<line x1="452.39" y1="1215.87" x2="455.46" y2="1208.48" stroke="#000" stroke-width="0.8"/>
<line x1="444.69" y1="1208.35" x2="463.16" y2="1216" stroke="#000" stroke-width="0.8"/>
<circle cx="490.02" cy="1248.28" r="8" fill="none" stroke="#000" stroke-width="1.6"/>
<line x1="486.33" y1="1249.81" x2="493.72" y2="1246.74" stroke="#000" stroke-width="0.8"/>
<line x1="486.2" y1="1239.04" x2="493.85" y2="1257.51" stroke="#000" stroke-width="0.8"/>
<line x1="191.1" y1="1209.7" x2="191.1" y2="1258.6" stroke="#000" stroke-width="1"/>
<line x1="191.1" y1="1267.4" x2="191.1" y2="1282.6" stroke="#000" stroke-width="1"/>
<line x1="191.1" y1="1292.3" x2="191.1" y2="1340.4" stroke="#000" stroke-width="1"/>
<line x1="126.8" y1="1273.8" x2="174.2" y2="1273.8" stroke="#000" stroke-width="1"/>
<line x1="182.2" y1="1273.8" x2="198.2" y2="1273.8" stroke="#000" stroke-width="1"/>
<line x1="207.8" y1="1273.8" x2="254.3" y2="1273.8" stroke="#000" stroke-width="1"/>
<path d="M239.59 1254.21 A52.3 52.3 0 0 1 240.25 1291.69" fill="none" stroke="#000" stroke-width="0.9" />
<path d="M145.81 1299.95 A52.3 52.3 0 0 1 138.83 1275.63" fill="none" stroke="#000" stroke-width="0.9" />
<path d="M235.45 1246.09 A52.3 52.3 0 0 1 238.11 1250.87" fill="none" stroke="#000" stroke-width="0.9" />
<line x1="121.9" y1="1117.7" x2="121.9" y2="1268" stroke="#000" stroke-width="1.1"/>
<line x1="259.9" y1="1117.7" x2="259.9" y2="1268" stroke="#000" stroke-width="1.1"/>
<polygon points="121.9,1124.4 135.7,1120.9 132.94,1124.4 135.7,1127.9" fill="#000"/>
<polygon points="259.9,1124.4 246.1,1127.9 248.86,1124.4 246.1,1120.9" fill="#000"/>
<line x1="131" y1="1124.4" x2="183.5" y2="1124.4" stroke="#000" stroke-width="1.1"/>
<line x1="200.5" y1="1124.4" x2="251" y2="1124.4" stroke="#000" stroke-width="1.1"/>
<text transform="translate(186.56 1130.5) scale(0.86 1)" font-family="Liberation Sans, sans-serif" font-size="17.86" text-anchor="start" fill="#000" textLength="12.65" lengthAdjust="spacing" stroke="#000" stroke-width="0.12">D</text>
<line x1="149.4" y1="1166.5" x2="149.4" y2="1262" stroke="#000" stroke-width="1.1"/>
<line x1="232.8" y1="1166.5" x2="232.8" y2="1262" stroke="#000" stroke-width="1.1"/>
<polygon points="149.4,1170 163.2,1166.5 160.44,1170 163.2,1173.5" fill="#000"/>
<polygon points="232.8,1170 219,1173.5 221.76,1170 219,1166.5" fill="#000"/>
<line x1="158" y1="1170" x2="177.5" y2="1170" stroke="#000" stroke-width="1.1"/>
<line x1="205" y1="1170" x2="224" y2="1170" stroke="#000" stroke-width="1.1"/>
<text transform="translate(179.9 1176.5) scale(1.2 1)" font-family="Liberation Sans, sans-serif" font-size="18.57" text-anchor="start" fill="#000" stroke="#000" stroke-width="0.12">d</text>
<text transform="translate(194.3 1176.5) scale(1.2 1)" font-family="Liberation Sans, sans-serif" font-size="18.57" text-anchor="start" fill="#000" stroke="#000" stroke-width="0.12">f</text>
<text transform="translate(246.88 1202.9) scale(0.86 1)" font-family="Liberation Sans, sans-serif" font-size="18.57" text-anchor="start" fill="#000" stroke="#000" stroke-width="0.12">L</text>
<line x1="245.2" y1="1206.4" x2="209.7" y2="1266.3" stroke="#000" stroke-width="1.1"/>
<polygon points="231.91,1230.37 235.87,1217.6 237.21,1221.42 241.2,1220.76" fill="#000"/>
<polygon points="224.26,1243.27 220.3,1256.03 218.96,1252.22 214.96,1252.87" fill="#000"/>
<line x1="169.8" y1="1284" x2="169.8" y2="1388.2" stroke="#000" stroke-width="1.1"/>
<line x1="211.6" y1="1284" x2="211.6" y2="1388.2" stroke="#000" stroke-width="1.1"/>
<line x1="143.2" y1="1383" x2="161" y2="1383" stroke="#000" stroke-width="1.1"/>
<polygon points="169.8,1383 156,1386.5 158.76,1383 156,1379.5" fill="#000"/>
<polygon points="211.6,1383 225.4,1379.5 222.64,1383 225.4,1386.5" fill="#000"/>
<line x1="220" y1="1383" x2="238.5" y2="1383" stroke="#000" stroke-width="1.1"/>
<text transform="translate(178.22 1390.3) scale(0.86 1)" font-family="Liberation Sans, sans-serif" font-size="18.86" text-anchor="start" fill="#000" textLength="29.02" lengthAdjust="spacing" stroke="#000" stroke-width="0.12">DN</text>
<line x1="138.8" y1="1284" x2="138.8" y2="1429" stroke="#000" stroke-width="1.1"/>
<line x1="243" y1="1284" x2="243" y2="1429" stroke="#000" stroke-width="1.1"/>
<polygon points="138.8,1424.6 152.6,1421.1 149.84,1424.6 152.6,1428.1" fill="#000"/>
<polygon points="243,1424.6 229.2,1428.1 231.96,1424.6 229.2,1421.1" fill="#000"/>
<line x1="148" y1="1424.6" x2="180" y2="1424.6" stroke="#000" stroke-width="1.1"/>
<line x1="198" y1="1424.6" x2="234" y2="1424.6" stroke="#000" stroke-width="1.1"/>
<text transform="translate(182.73 1431) scale(0.86 1)" font-family="Liberation Sans, sans-serif" font-size="18.57" text-anchor="start" fill="#000" textLength="13.88" lengthAdjust="spacing" stroke="#000" stroke-width="0.12">K</text>
<line x1="428.4" y1="1193.4" x2="428.4" y2="1257.1" stroke="#000" stroke-width="1"/>
<line x1="428.4" y1="1266.9" x2="428.4" y2="1283.1" stroke="#000" stroke-width="1"/>
<line x1="428.4" y1="1292" x2="428.4" y2="1356.6" stroke="#000" stroke-width="1"/>
<line x1="346.7" y1="1273.8" x2="409.4" y2="1273.8" stroke="#000" stroke-width="1"/>
<line x1="419.2" y1="1273.8" x2="434.5" y2="1273.8" stroke="#000" stroke-width="1"/>
<line x1="444.3" y1="1273.8" x2="507.1" y2="1273.8" stroke="#000" stroke-width="1"/>
<line x1="345" y1="1117.7" x2="345" y2="1268" stroke="#000" stroke-width="1.1"/>
<line x1="512.1" y1="1117.7" x2="512.1" y2="1268" stroke="#000" stroke-width="1.1"/>
<polygon points="345,1124.4 358.8,1120.9 356.04,1124.4 358.8,1127.9" fill="#000"/>
<polygon points="512.1,1124.4 498.3,1127.9 501.06,1124.4 498.3,1120.9" fill="#000"/>
<line x1="354" y1="1124.4" x2="417" y2="1124.4" stroke="#000" stroke-width="1.1"/>
<line x1="435" y1="1124.4" x2="503" y2="1124.4" stroke="#000" stroke-width="1.1"/>
<text transform="translate(420.36 1130.5) scale(0.86 1)" font-family="Liberation Sans, sans-serif" font-size="17.86" text-anchor="start" fill="#000" textLength="12.65" lengthAdjust="spacing" stroke="#000" stroke-width="0.12">D</text>
<line x1="373.8" y1="1166.5" x2="373.8" y2="1262" stroke="#000" stroke-width="1.1"/>
<line x1="483.7" y1="1166.5" x2="483.7" y2="1262" stroke="#000" stroke-width="1.1"/>
<polygon points="373.8,1170 387.6,1166.5 384.84,1170 387.6,1173.5" fill="#000"/>
<polygon points="483.7,1170 469.9,1173.5 472.66,1170 469.9,1166.5" fill="#000"/>
<line x1="383" y1="1170" x2="414" y2="1170" stroke="#000" stroke-width="1.1"/>
<line x1="442" y1="1170" x2="475" y2="1170" stroke="#000" stroke-width="1.1"/>
<text transform="translate(416.2 1176.5) scale(1.2 1)" font-family="Liberation Sans, sans-serif" font-size="18.57" text-anchor="start" fill="#000" stroke="#000" stroke-width="0.12">d</text>
<text transform="translate(430.3 1176.5) scale(1.2 1)" font-family="Liberation Sans, sans-serif" font-size="18.57" text-anchor="start" fill="#000" stroke="#000" stroke-width="0.12">f</text>
<text transform="translate(496.28 1209.5) scale(0.86 1)" font-family="Liberation Sans, sans-serif" font-size="18.57" text-anchor="start" fill="#000" stroke="#000" stroke-width="0.12">L</text>
<line x1="500.1" y1="1213" x2="483.7" y2="1268.5" stroke="#000" stroke-width="1.1"/>
<polygon points="492.29,1240.6 493,1227.26 495.24,1230.63 498.95,1229.01" fill="#000"/>
<polygon points="487.76,1255.95 487.04,1269.29 484.81,1265.92 481.1,1267.54" fill="#000"/>
<line x1="395.1" y1="1284" x2="395.1" y2="1388.2" stroke="#000" stroke-width="1.1"/>
<line x1="461.6" y1="1284" x2="461.6" y2="1388.2" stroke="#000" stroke-width="1.1"/>
<line x1="369.3" y1="1383" x2="386" y2="1383" stroke="#000" stroke-width="1.1"/>
<polygon points="395.1,1383 381.3,1386.5 384.06,1383 381.3,1379.5" fill="#000"/>
<polygon points="461.6,1383 475.4,1379.5 472.64,1383 475.4,1386.5" fill="#000"/>
<line x1="470" y1="1383" x2="489" y2="1383" stroke="#000" stroke-width="1.1"/>
<text transform="translate(416.12 1390.3) scale(0.86 1)" font-family="Liberation Sans, sans-serif" font-size="18.86" text-anchor="start" fill="#000" textLength="29.02" lengthAdjust="spacing" stroke="#000" stroke-width="0.12">DN</text>
<line x1="361.4" y1="1284" x2="361.4" y2="1429" stroke="#000" stroke-width="1.1"/>
<line x1="495.7" y1="1284" x2="495.7" y2="1429" stroke="#000" stroke-width="1.1"/>
<polygon points="361.4,1424.6 375.2,1421.1 372.44,1424.6 375.2,1428.1" fill="#000"/>
<polygon points="495.7,1424.6 481.9,1428.1 484.66,1424.6 481.9,1421.1" fill="#000"/>
<line x1="371" y1="1424.6" x2="417" y2="1424.6" stroke="#000" stroke-width="1.1"/>
<line x1="436" y1="1424.6" x2="487" y2="1424.6" stroke="#000" stroke-width="1.1"/>
<text transform="translate(420.43 1431) scale(0.86 1)" font-family="Liberation Sans, sans-serif" font-size="18.57" text-anchor="start" fill="#000" textLength="13.88" lengthAdjust="spacing" stroke="#000" stroke-width="0.12">K</text>
</svg>
</body></html>
